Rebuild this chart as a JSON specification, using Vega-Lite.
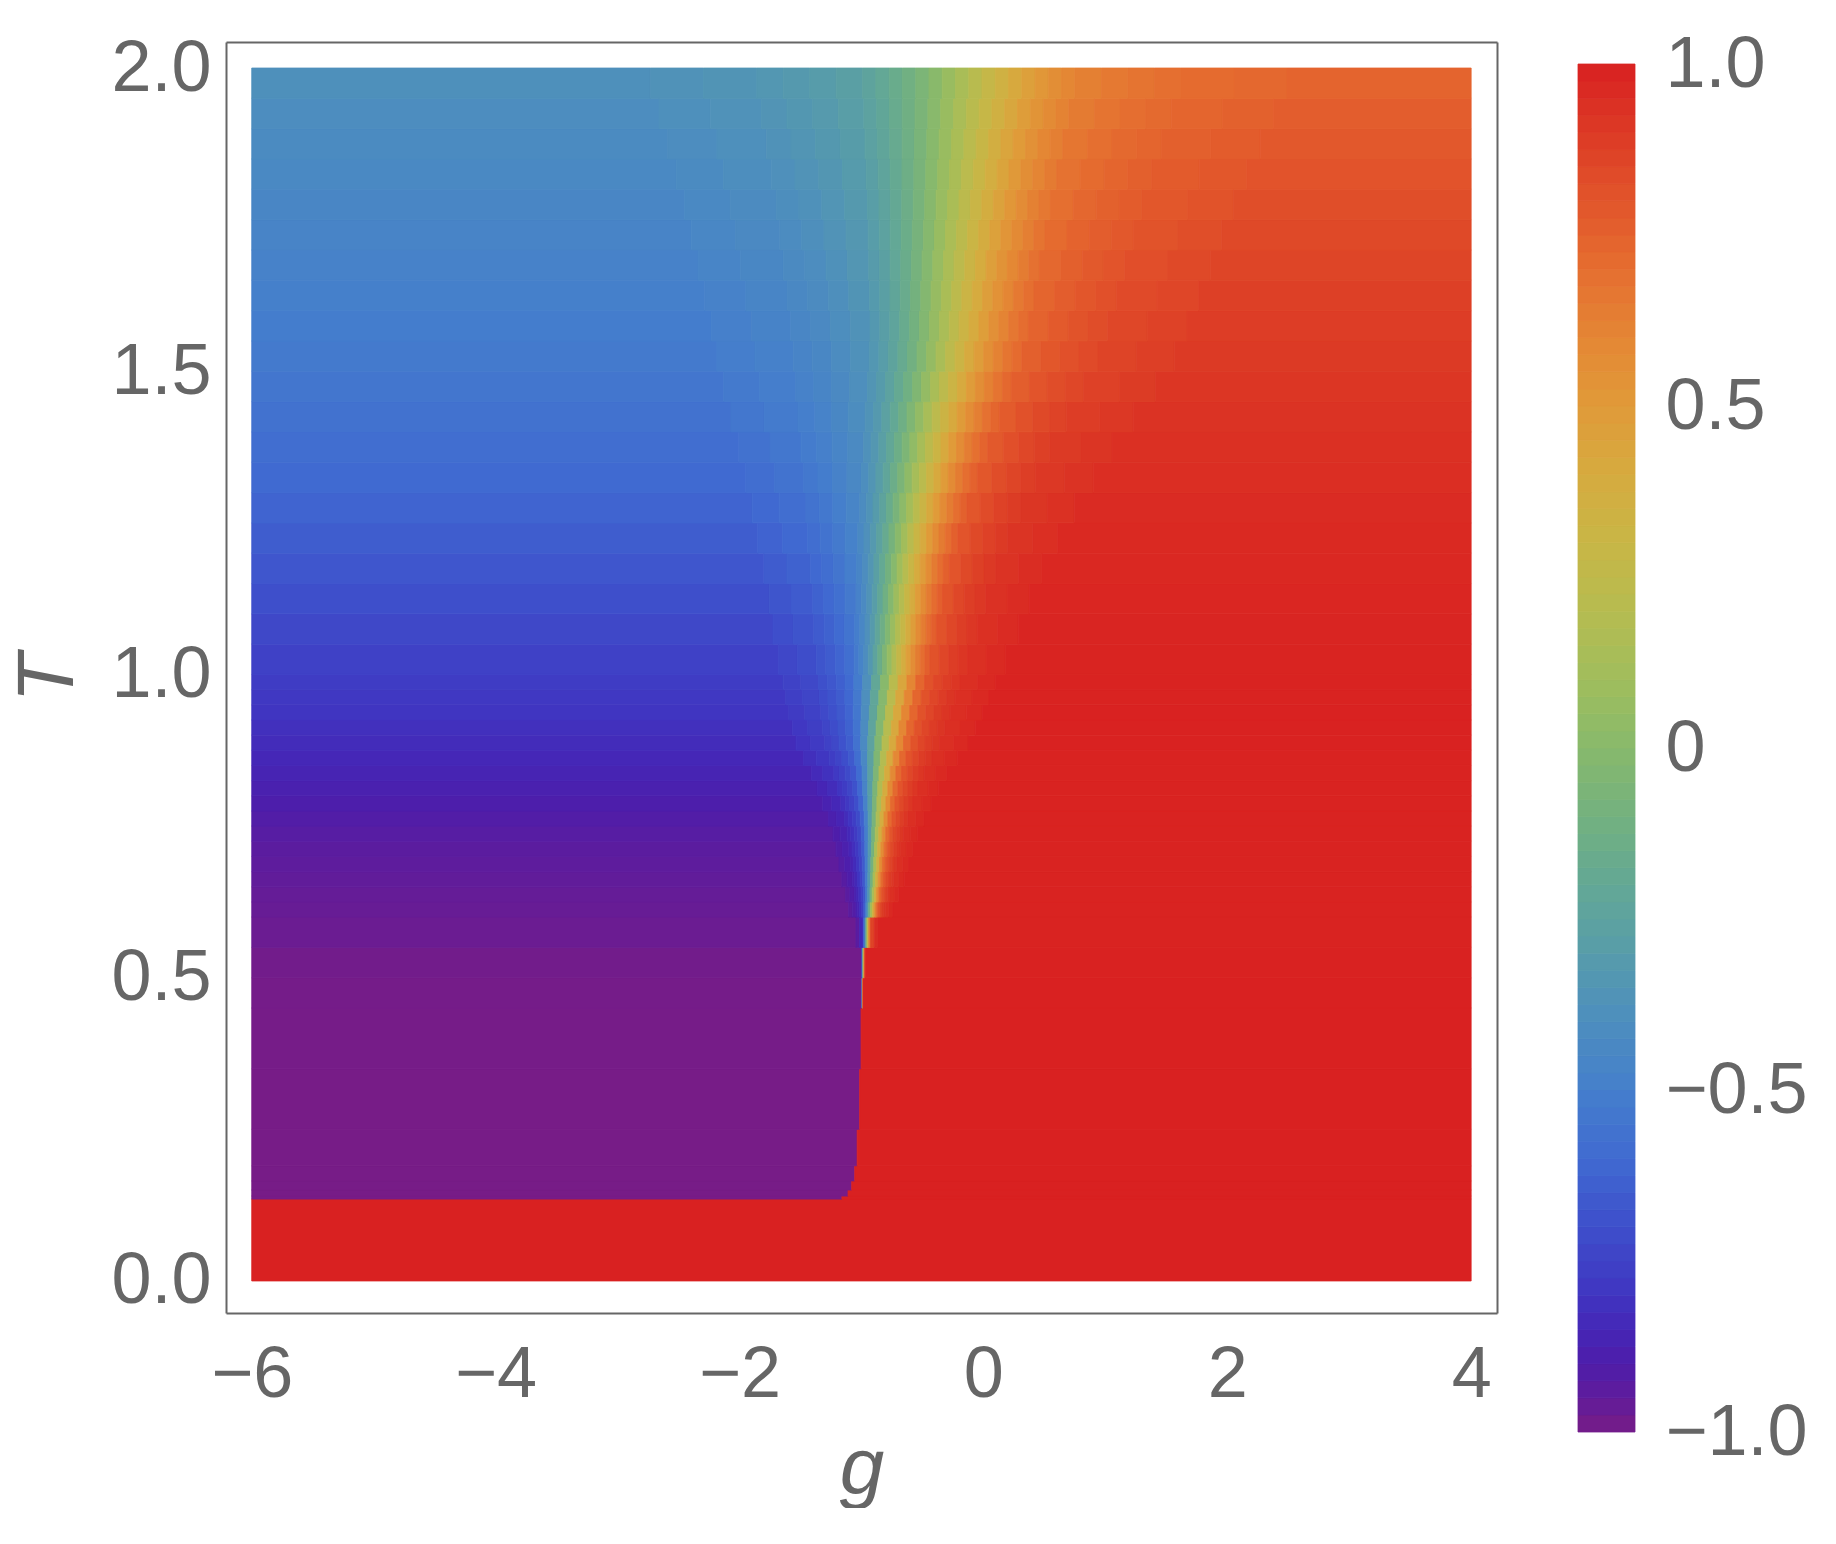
{
"$schema":"https://vega.github.io/schema/vega-lite/v6.json",
"padding":{"left":8,"top":28,"right":0,"bottom":0},
"background":"white",
"spacing":81,
"bounds":"flush",
"config":{"view":{"stroke":null},"axis":{"labelFont":"Liberation Sans","labelFontSize":72,"labelColor":"#666666","titleFont":"Liberation Sans","titleFontSize":80,"titleFontStyle":"italic","titleFontWeight":"normal","titleColor":"#666666","grid":false}},
"hconcat":[
{
"width":1271,"height":1271,
"layer":[
{
"data":{"values":[
{"a":-6,"b":4,"t":0,"u":0.135,"v":1},
{"a":-6,"b":-1.16,"t":0.135,"u":0.14,"v":-0.998},{"a":-1.16,"b":4,"t":0.135,"u":0.14,"v":1},
{"a":-6,"b":-1.11,"t":0.14,"u":0.15,"v":-0.998},{"a":-1.11,"b":4,"t":0.14,"u":0.15,"v":1},
{"a":-6,"b":-1.08,"t":0.15,"u":0.165,"v":-0.998},{"a":-1.08,"b":4,"t":0.15,"u":0.165,"v":1},
{"a":-6,"b":-1.055,"t":0.165,"u":0.19,"v":-0.998},{"a":-1.055,"b":4,"t":0.165,"u":0.19,"v":1},
{"a":-6,"b":-1.035,"t":0.19,"u":0.25,"v":-0.998},{"a":-1.035,"b":4,"t":0.19,"u":0.25,"v":1},
{"a":-6,"b":-1.015,"t":0.25,"u":0.35,"v":-0.998},{"a":-1.015,"b":4,"t":0.25,"u":0.35,"v":1},
{"a":-6,"b":-1.003,"t":0.35,"u":0.45,"v":-0.996},{"a":-1.003,"b":4,"t":0.35,"u":0.45,"v":1},
{"a":-6,"b":-0.997,"t":0.45,"u":0.5,"v":-0.993},{"a":-0.997,"b":-0.992,"t":0.45,"u":0.5,"v":-0.5},{"a":-0.992,"b":-0.987,"t":0.45,"u":0.5,"v":0.5},{"a":-0.987,"b":4,"t":0.45,"u":0.5,"v":1},
{"a":-6,"b":-1.001,"t":0.5,"u":0.55,"v":-0.988},{"a":-1.001,"b":-0.993,"t":0.5,"u":0.55,"v":-0.8},{"a":-0.993,"b":-0.985,"t":0.5,"u":0.55,"v":-0.25},{"a":-0.985,"b":-0.977,"t":0.5,"u":0.55,"v":0.3},{"a":-0.977,"b":-0.969,"t":0.5,"u":0.55,"v":0.8},{"a":-0.969,"b":4,"t":0.5,"u":0.55,"v":0.996},
{"a":-6,"b":-1.045,"t":0.55,"u":0.6,"v":-0.972},{"a":-1.045,"b":-1.015,"t":0.55,"u":0.6,"v":-0.934},{"a":-1.015,"b":-0.985,"t":0.55,"u":0.6,"v":-0.842},{"a":-0.985,"b":-0.97,"t":0.55,"u":0.6,"v":-0.618},{"a":-0.97,"b":-0.955,"t":0.55,"u":0.6,"v":-0.231},{"a":-0.955,"b":-0.94,"t":0.55,"u":0.6,"v":0.253},{"a":-0.94,"b":-0.925,"t":0.55,"u":0.6,"v":0.64},{"a":-0.925,"b":-0.895,"t":0.55,"u":0.6,"v":0.864},{"a":-0.895,"b":-0.865,"t":0.55,"u":0.6,"v":0.956},{"a":-0.865,"b":4,"t":0.55,"u":0.6,"v":0.994},
{"a":-6,"b":-1.105,"t":0.6,"u":0.625,"v":-0.965},{"a":-1.105,"b":-1.075,"t":0.6,"u":0.625,"v":-0.939},{"a":-1.075,"b":-1.045,"t":0.6,"u":0.625,"v":-0.913},{"a":-1.045,"b":-1.03,"t":0.6,"u":0.625,"v":-0.882},{"a":-1.03,"b":-1.015,"t":0.6,"u":0.625,"v":-0.853},{"a":-1.015,"b":-1.0,"t":0.6,"u":0.625,"v":-0.814},{"a":-1.0,"b":-0.985,"t":0.6,"u":0.625,"v":-0.766},{"a":-0.985,"b":-0.97,"t":0.6,"u":0.625,"v":-0.679},{"a":-0.97,"b":-0.955,"t":0.6,"u":0.625,"v":-0.532},{"a":-0.955,"b":-0.94,"t":0.6,"u":0.625,"v":-0.338},{"a":-0.94,"b":-0.925,"t":0.6,"u":0.625,"v":-0.108},{"a":-0.925,"b":-0.91,"t":0.6,"u":0.625,"v":0.137},{"a":-0.91,"b":-0.895,"t":0.6,"u":0.625,"v":0.367},{"a":-0.895,"b":-0.88,"t":0.6,"u":0.625,"v":0.561},{"a":-0.88,"b":-0.865,"t":0.6,"u":0.625,"v":0.708},{"a":-0.865,"b":-0.85,"t":0.6,"u":0.625,"v":0.795},{"a":-0.85,"b":-0.835,"t":0.6,"u":0.625,"v":0.843},{"a":-0.835,"b":-0.82,"t":0.6,"u":0.625,"v":0.882},{"a":-0.82,"b":-0.805,"t":0.6,"u":0.625,"v":0.911},{"a":-0.805,"b":-0.775,"t":0.6,"u":0.625,"v":0.942},{"a":-0.775,"b":-0.745,"t":0.6,"u":0.625,"v":0.968},{"a":-0.745,"b":4,"t":0.6,"u":0.625,"v":0.994},
{"a":-6,"b":-1.131,"t":0.625,"u":0.65,"v":-0.96},{"a":-1.131,"b":-1.0945,"t":0.625,"u":0.65,"v":-0.934},{"a":-1.0945,"b":-1.058,"t":0.625,"u":0.65,"v":-0.908},{"a":-1.058,"b":-1.04,"t":0.625,"u":0.65,"v":-0.878},{"a":-1.04,"b":-1.0215,"t":0.625,"u":0.65,"v":-0.848},{"a":-1.0215,"b":-1.003,"t":0.625,"u":0.65,"v":-0.81},{"a":-1.003,"b":-0.985,"t":0.625,"u":0.65,"v":-0.761},{"a":-0.985,"b":-0.967,"t":0.625,"u":0.65,"v":-0.675},{"a":-0.967,"b":-0.9485,"t":0.625,"u":0.65,"v":-0.529},{"a":-0.9485,"b":-0.93,"t":0.625,"u":0.65,"v":-0.335},{"a":-0.93,"b":-0.912,"t":0.625,"u":0.65,"v":-0.105},{"a":-0.912,"b":-0.894,"t":0.625,"u":0.65,"v":0.139},{"a":-0.894,"b":-0.8755,"t":0.625,"u":0.65,"v":0.369},{"a":-0.8755,"b":-0.857,"t":0.625,"u":0.65,"v":0.563},{"a":-0.857,"b":-0.839,"t":0.625,"u":0.65,"v":0.709},{"a":-0.839,"b":-0.821,"t":0.625,"u":0.65,"v":0.795},{"a":-0.821,"b":-0.8025,"t":0.625,"u":0.65,"v":0.844},{"a":-0.8025,"b":-0.784,"t":0.625,"u":0.65,"v":0.882},{"a":-0.784,"b":-0.766,"t":0.625,"u":0.65,"v":0.912},{"a":-0.766,"b":-0.7295,"t":0.625,"u":0.65,"v":0.942},{"a":-0.7295,"b":-0.693,"t":0.625,"u":0.65,"v":0.968},{"a":-0.693,"b":4,"t":0.625,"u":0.65,"v":0.994},
{"a":-6,"b":-1.16,"t":0.65,"u":0.675,"v":-0.952},{"a":-1.16,"b":-1.1175,"t":0.65,"u":0.675,"v":-0.926},{"a":-1.1175,"b":-1.075,"t":0.65,"u":0.675,"v":-0.9},{"a":-1.075,"b":-1.054,"t":0.65,"u":0.675,"v":-0.87},{"a":-1.054,"b":-1.0325,"t":0.65,"u":0.675,"v":-0.841},{"a":-1.0325,"b":-1.011,"t":0.65,"u":0.675,"v":-0.802},{"a":-1.011,"b":-0.99,"t":0.65,"u":0.675,"v":-0.754},{"a":-0.99,"b":-0.969,"t":0.65,"u":0.675,"v":-0.668},{"a":-0.969,"b":-0.9475,"t":0.65,"u":0.675,"v":-0.522},{"a":-0.9475,"b":-0.926,"t":0.65,"u":0.675,"v":-0.33},{"a":-0.926,"b":-0.905,"t":0.65,"u":0.675,"v":-0.1},{"a":-0.905,"b":-0.884,"t":0.65,"u":0.675,"v":0.142},{"a":-0.884,"b":-0.8625,"t":0.65,"u":0.675,"v":0.372},{"a":-0.8625,"b":-0.841,"t":0.65,"u":0.675,"v":0.564},{"a":-0.841,"b":-0.82,"t":0.65,"u":0.675,"v":0.71},{"a":-0.82,"b":-0.799,"t":0.65,"u":0.675,"v":0.796},{"a":-0.799,"b":-0.7775,"t":0.65,"u":0.675,"v":0.844},{"a":-0.7775,"b":-0.756,"t":0.65,"u":0.675,"v":0.883},{"a":-0.756,"b":-0.735,"t":0.65,"u":0.675,"v":0.912},{"a":-0.735,"b":-0.6925,"t":0.65,"u":0.675,"v":0.942},{"a":-0.6925,"b":-0.65,"t":0.65,"u":0.675,"v":0.968},{"a":-0.65,"b":4,"t":0.65,"u":0.675,"v":0.994},
{"a":-6,"b":-1.184,"t":0.675,"u":0.7,"v":-0.944},{"a":-1.184,"b":-1.1365,"t":0.675,"u":0.7,"v":-0.918},{"a":-1.1365,"b":-1.089,"t":0.675,"u":0.7,"v":-0.893},{"a":-1.089,"b":-1.065,"t":0.675,"u":0.7,"v":-0.862},{"a":-1.065,"b":-1.0415,"t":0.675,"u":0.7,"v":-0.833},{"a":-1.0415,"b":-1.018,"t":0.675,"u":0.7,"v":-0.795},{"a":-1.018,"b":-0.994,"t":0.675,"u":0.7,"v":-0.747},{"a":-0.994,"b":-0.97,"t":0.675,"u":0.7,"v":-0.661},{"a":-0.97,"b":-0.9465,"t":0.675,"u":0.7,"v":-0.516},{"a":-0.9465,"b":-0.923,"t":0.675,"u":0.7,"v":-0.324},{"a":-0.923,"b":-0.899,"t":0.675,"u":0.7,"v":-0.096},{"a":-0.899,"b":-0.875,"t":0.675,"u":0.7,"v":0.146},{"a":-0.875,"b":-0.8515,"t":0.675,"u":0.7,"v":0.374},{"a":-0.8515,"b":-0.828,"t":0.675,"u":0.7,"v":0.566},{"a":-0.828,"b":-0.804,"t":0.675,"u":0.7,"v":0.711},{"a":-0.804,"b":-0.78,"t":0.675,"u":0.7,"v":0.797},{"a":-0.78,"b":-0.7565,"t":0.675,"u":0.7,"v":0.845},{"a":-0.7565,"b":-0.733,"t":0.675,"u":0.7,"v":0.883},{"a":-0.733,"b":-0.709,"t":0.675,"u":0.7,"v":0.912},{"a":-0.709,"b":-0.6615,"t":0.675,"u":0.7,"v":0.943},{"a":-0.6615,"b":-0.614,"t":0.675,"u":0.7,"v":0.968},{"a":-0.614,"b":4,"t":0.675,"u":0.7,"v":0.994},
{"a":-6,"b":-1.208,"t":0.7,"u":0.725,"v":-0.935},{"a":-1.208,"b":-1.1555,"t":0.7,"u":0.725,"v":-0.909},{"a":-1.1555,"b":-1.103,"t":0.7,"u":0.725,"v":-0.884},{"a":-1.103,"b":-1.077,"t":0.7,"u":0.725,"v":-0.854},{"a":-1.077,"b":-1.0505,"t":0.7,"u":0.725,"v":-0.825},{"a":-1.0505,"b":-1.024,"t":0.7,"u":0.725,"v":-0.787},{"a":-1.024,"b":-0.998,"t":0.7,"u":0.725,"v":-0.739},{"a":-0.998,"b":-0.972,"t":0.7,"u":0.725,"v":-0.654},{"a":-0.972,"b":-0.9455,"t":0.7,"u":0.725,"v":-0.509},{"a":-0.9455,"b":-0.919,"t":0.7,"u":0.725,"v":-0.318},{"a":-0.919,"b":-0.893,"t":0.7,"u":0.725,"v":-0.091},{"a":-0.893,"b":-0.867,"t":0.7,"u":0.725,"v":0.15},{"a":-0.867,"b":-0.8405,"t":0.7,"u":0.725,"v":0.377},{"a":-0.8405,"b":-0.814,"t":0.7,"u":0.725,"v":0.568},{"a":-0.814,"b":-0.788,"t":0.7,"u":0.725,"v":0.713},{"a":-0.788,"b":-0.762,"t":0.7,"u":0.725,"v":0.798},{"a":-0.762,"b":-0.7355,"t":0.7,"u":0.725,"v":0.846},{"a":-0.7355,"b":-0.709,"t":0.7,"u":0.725,"v":0.884},{"a":-0.709,"b":-0.683,"t":0.7,"u":0.725,"v":0.913},{"a":-0.683,"b":-0.6305,"t":0.7,"u":0.725,"v":0.943},{"a":-0.6305,"b":-0.578,"t":0.7,"u":0.725,"v":0.968},{"a":-0.578,"b":4,"t":0.7,"u":0.725,"v":0.994},
{"a":-6,"b":-1.232,"t":0.725,"u":0.75,"v":-0.924},{"a":-1.232,"b":-1.1745,"t":0.725,"u":0.75,"v":-0.898},{"a":-1.1745,"b":-1.117,"t":0.725,"u":0.75,"v":-0.873},{"a":-1.117,"b":-1.088,"t":0.725,"u":0.75,"v":-0.843},{"a":-1.088,"b":-1.0595,"t":0.725,"u":0.75,"v":-0.814},{"a":-1.0595,"b":-1.031,"t":0.725,"u":0.75,"v":-0.777},{"a":-1.031,"b":-1.002,"t":0.725,"u":0.75,"v":-0.729},{"a":-1.002,"b":-0.973,"t":0.725,"u":0.75,"v":-0.644},{"a":-0.973,"b":-0.9445,"t":0.725,"u":0.75,"v":-0.501},{"a":-0.9445,"b":-0.916,"t":0.725,"u":0.75,"v":-0.311},{"a":-0.916,"b":-0.887,"t":0.725,"u":0.75,"v":-0.085},{"a":-0.887,"b":-0.858,"t":0.725,"u":0.75,"v":0.155},{"a":-0.858,"b":-0.8295,"t":0.725,"u":0.75,"v":0.381},{"a":-0.8295,"b":-0.801,"t":0.725,"u":0.75,"v":0.571},{"a":-0.801,"b":-0.772,"t":0.725,"u":0.75,"v":0.714},{"a":-0.772,"b":-0.743,"t":0.725,"u":0.75,"v":0.799},{"a":-0.743,"b":-0.7145,"t":0.725,"u":0.75,"v":0.847},{"a":-0.7145,"b":-0.686,"t":0.725,"u":0.75,"v":0.884},{"a":-0.686,"b":-0.657,"t":0.725,"u":0.75,"v":0.913},{"a":-0.657,"b":-0.5995,"t":0.725,"u":0.75,"v":0.943},{"a":-0.5995,"b":-0.542,"t":0.725,"u":0.75,"v":0.968},{"a":-0.542,"b":4,"t":0.725,"u":0.75,"v":0.994},
{"a":-6,"b":-1.27,"t":0.75,"u":0.775,"v":-0.911},{"a":-1.27,"b":-1.205,"t":0.75,"u":0.775,"v":-0.885},{"a":-1.205,"b":-1.14,"t":0.75,"u":0.775,"v":-0.86},{"a":-1.14,"b":-1.1075,"t":0.75,"u":0.775,"v":-0.831},{"a":-1.1075,"b":-1.075,"t":0.75,"u":0.775,"v":-0.802},{"a":-1.075,"b":-1.0425,"t":0.75,"u":0.775,"v":-0.765},{"a":-1.0425,"b":-1.01,"t":0.75,"u":0.775,"v":-0.717},{"a":-1.01,"b":-0.9775,"t":0.75,"u":0.775,"v":-0.633},{"a":-0.9775,"b":-0.945,"t":0.75,"u":0.775,"v":-0.491},{"a":-0.945,"b":-0.9125,"t":0.75,"u":0.775,"v":-0.302},{"a":-0.9125,"b":-0.88,"t":0.75,"u":0.775,"v":-0.077},{"a":-0.88,"b":-0.8475,"t":0.75,"u":0.775,"v":0.16},{"a":-0.8475,"b":-0.815,"t":0.75,"u":0.775,"v":0.385},{"a":-0.815,"b":-0.7825,"t":0.75,"u":0.775,"v":0.574},{"a":-0.7825,"b":-0.75,"t":0.75,"u":0.775,"v":0.716},{"a":-0.75,"b":-0.7175,"t":0.75,"u":0.775,"v":0.8},{"a":-0.7175,"b":-0.685,"t":0.75,"u":0.775,"v":0.848},{"a":-0.685,"b":-0.6525,"t":0.75,"u":0.775,"v":0.885},{"a":-0.6525,"b":-0.62,"t":0.75,"u":0.775,"v":0.914},{"a":-0.62,"b":-0.555,"t":0.75,"u":0.775,"v":0.943},{"a":-0.555,"b":-0.49,"t":0.75,"u":0.775,"v":0.968},{"a":-0.49,"b":4,"t":0.75,"u":0.775,"v":0.994},
{"a":-6,"b":-1.317,"t":0.775,"u":0.8,"v":-0.896},{"a":-1.317,"b":-1.243,"t":0.775,"u":0.8,"v":-0.871},{"a":-1.243,"b":-1.169,"t":0.775,"u":0.8,"v":-0.846},{"a":-1.169,"b":-1.132,"t":0.775,"u":0.8,"v":-0.816},{"a":-1.132,"b":-1.095,"t":0.775,"u":0.8,"v":-0.788},{"a":-1.095,"b":-1.058,"t":0.775,"u":0.8,"v":-0.751},{"a":-1.058,"b":-1.021,"t":0.775,"u":0.8,"v":-0.704},{"a":-1.021,"b":-0.984,"t":0.775,"u":0.8,"v":-0.621},{"a":-0.984,"b":-0.947,"t":0.775,"u":0.8,"v":-0.479},{"a":-0.947,"b":-0.91,"t":0.775,"u":0.8,"v":-0.292},{"a":-0.91,"b":-0.873,"t":0.775,"u":0.8,"v":-0.069},{"a":-0.873,"b":-0.836,"t":0.775,"u":0.8,"v":0.167},{"a":-0.836,"b":-0.799,"t":0.775,"u":0.8,"v":0.39},{"a":-0.799,"b":-0.762,"t":0.775,"u":0.8,"v":0.577},{"a":-0.762,"b":-0.725,"t":0.775,"u":0.8,"v":0.719},{"a":-0.725,"b":-0.688,"t":0.775,"u":0.8,"v":0.802},{"a":-0.688,"b":-0.651,"t":0.775,"u":0.8,"v":0.849},{"a":-0.651,"b":-0.614,"t":0.775,"u":0.8,"v":0.886},{"a":-0.614,"b":-0.577,"t":0.775,"u":0.8,"v":0.914},{"a":-0.577,"b":-0.503,"t":0.775,"u":0.8,"v":0.944},{"a":-0.503,"b":-0.429,"t":0.775,"u":0.8,"v":0.969},{"a":-0.429,"b":4,"t":0.775,"u":0.8,"v":0.994},
{"a":-6,"b":-1.361,"t":0.8,"u":0.825,"v":-0.88},{"a":-1.361,"b":-1.2785,"t":0.8,"u":0.825,"v":-0.855},{"a":-1.2785,"b":-1.196,"t":0.8,"u":0.825,"v":-0.83},{"a":-1.196,"b":-1.155,"t":0.8,"u":0.825,"v":-0.801},{"a":-1.155,"b":-1.1135,"t":0.8,"u":0.825,"v":-0.773},{"a":-1.1135,"b":-1.072,"t":0.8,"u":0.825,"v":-0.736},{"a":-1.072,"b":-1.031,"t":0.8,"u":0.825,"v":-0.69},{"a":-1.031,"b":-0.99,"t":0.8,"u":0.825,"v":-0.607},{"a":-0.99,"b":-0.9485,"t":0.8,"u":0.825,"v":-0.466},{"a":-0.9485,"b":-0.907,"t":0.8,"u":0.825,"v":-0.281},{"a":-0.907,"b":-0.866,"t":0.8,"u":0.825,"v":-0.06},{"a":-0.866,"b":-0.825,"t":0.8,"u":0.825,"v":0.174},{"a":-0.825,"b":-0.7835,"t":0.8,"u":0.825,"v":0.395},{"a":-0.7835,"b":-0.742,"t":0.8,"u":0.825,"v":0.58},{"a":-0.742,"b":-0.701,"t":0.8,"u":0.825,"v":0.721},{"a":-0.701,"b":-0.66,"t":0.8,"u":0.825,"v":0.804},{"a":-0.66,"b":-0.6185,"t":0.8,"u":0.825,"v":0.85},{"a":-0.6185,"b":-0.577,"t":0.8,"u":0.825,"v":0.887},{"a":-0.577,"b":-0.536,"t":0.8,"u":0.825,"v":0.915},{"a":-0.536,"b":-0.4535,"t":0.8,"u":0.825,"v":0.944},{"a":-0.4535,"b":-0.371,"t":0.8,"u":0.825,"v":0.969},{"a":-0.371,"b":4,"t":0.8,"u":0.825,"v":0.994},
{"a":-6,"b":-1.411,"t":0.825,"u":0.85,"v":-0.863},{"a":-1.411,"b":-1.3185,"t":0.825,"u":0.85,"v":-0.838},{"a":-1.3185,"b":-1.226,"t":0.825,"u":0.85,"v":-0.814},{"a":-1.226,"b":-1.18,"t":0.825,"u":0.85,"v":-0.785},{"a":-1.18,"b":-1.1335,"t":0.825,"u":0.85,"v":-0.757},{"a":-1.1335,"b":-1.087,"t":0.825,"u":0.85,"v":-0.72},{"a":-1.087,"b":-1.041,"t":0.825,"u":0.85,"v":-0.674},{"a":-1.041,"b":-0.995,"t":0.825,"u":0.85,"v":-0.592},{"a":-0.995,"b":-0.9485,"t":0.825,"u":0.85,"v":-0.453},{"a":-0.9485,"b":-0.902,"t":0.825,"u":0.85,"v":-0.269},{"a":-0.902,"b":-0.856,"t":0.825,"u":0.85,"v":-0.05},{"a":-0.856,"b":-0.81,"t":0.825,"u":0.85,"v":0.181},{"a":-0.81,"b":-0.7635,"t":0.825,"u":0.85,"v":0.4},{"a":-0.7635,"b":-0.717,"t":0.825,"u":0.85,"v":0.584},{"a":-0.717,"b":-0.671,"t":0.825,"u":0.85,"v":0.723},{"a":-0.671,"b":-0.625,"t":0.825,"u":0.85,"v":0.805},{"a":-0.625,"b":-0.5785,"t":0.825,"u":0.85,"v":0.851},{"a":-0.5785,"b":-0.532,"t":0.825,"u":0.85,"v":0.888},{"a":-0.532,"b":-0.486,"t":0.825,"u":0.85,"v":0.916},{"a":-0.486,"b":-0.3935,"t":0.825,"u":0.85,"v":0.945},{"a":-0.3935,"b":-0.301,"t":0.825,"u":0.85,"v":0.969},{"a":-0.301,"b":4,"t":0.825,"u":0.85,"v":0.994},
{"a":-6,"b":-1.475,"t":0.85,"u":0.875,"v":-0.846},{"a":-1.475,"b":-1.37,"t":0.85,"u":0.875,"v":-0.821},{"a":-1.37,"b":-1.265,"t":0.85,"u":0.875,"v":-0.797},{"a":-1.265,"b":-1.2125,"t":0.85,"u":0.875,"v":-0.769},{"a":-1.2125,"b":-1.16,"t":0.85,"u":0.875,"v":-0.741},{"a":-1.16,"b":-1.1075,"t":0.85,"u":0.875,"v":-0.705},{"a":-1.1075,"b":-1.055,"t":0.85,"u":0.875,"v":-0.659},{"a":-1.055,"b":-1.0025,"t":0.85,"u":0.875,"v":-0.578},{"a":-1.0025,"b":-0.95,"t":0.85,"u":0.875,"v":-0.44},{"a":-0.95,"b":-0.8975,"t":0.85,"u":0.875,"v":-0.258},{"a":-0.8975,"b":-0.845,"t":0.85,"u":0.875,"v":-0.041},{"a":-0.845,"b":-0.7925,"t":0.85,"u":0.875,"v":0.189},{"a":-0.7925,"b":-0.74,"t":0.85,"u":0.875,"v":0.406},{"a":-0.74,"b":-0.6875,"t":0.85,"u":0.875,"v":0.588},{"a":-0.6875,"b":-0.635,"t":0.85,"u":0.875,"v":0.726},{"a":-0.635,"b":-0.5825,"t":0.85,"u":0.875,"v":0.807},{"a":-0.5825,"b":-0.53,"t":0.85,"u":0.875,"v":0.853},{"a":-0.53,"b":-0.4775,"t":0.85,"u":0.875,"v":0.889},{"a":-0.4775,"b":-0.425,"t":0.85,"u":0.875,"v":0.917},{"a":-0.425,"b":-0.32,"t":0.85,"u":0.875,"v":0.945},{"a":-0.32,"b":-0.215,"t":0.85,"u":0.875,"v":0.969},{"a":-0.215,"b":4,"t":0.85,"u":0.875,"v":0.994},
{"a":-6,"b":-1.536,"t":0.875,"u":0.9,"v":-0.831},{"a":-1.536,"b":-1.4185,"t":0.875,"u":0.9,"v":-0.806},{"a":-1.4185,"b":-1.301,"t":0.875,"u":0.9,"v":-0.782},{"a":-1.301,"b":-1.242,"t":0.875,"u":0.9,"v":-0.753},{"a":-1.242,"b":-1.1835,"t":0.875,"u":0.9,"v":-0.726},{"a":-1.1835,"b":-1.125,"t":0.875,"u":0.9,"v":-0.69},{"a":-1.125,"b":-1.066,"t":0.875,"u":0.9,"v":-0.645},{"a":-1.066,"b":-1.007,"t":0.875,"u":0.9,"v":-0.564},{"a":-1.007,"b":-0.9485,"t":0.875,"u":0.9,"v":-0.428},{"a":-0.9485,"b":-0.89,"t":0.875,"u":0.9,"v":-0.247},{"a":-0.89,"b":-0.831,"t":0.875,"u":0.9,"v":-0.032},{"a":-0.831,"b":-0.772,"t":0.875,"u":0.9,"v":0.196},{"a":-0.772,"b":-0.7135,"t":0.875,"u":0.9,"v":0.411},{"a":-0.7135,"b":-0.655,"t":0.875,"u":0.9,"v":0.592},{"a":-0.655,"b":-0.596,"t":0.875,"u":0.9,"v":0.728},{"a":-0.596,"b":-0.537,"t":0.875,"u":0.9,"v":0.809},{"a":-0.537,"b":-0.4785,"t":0.875,"u":0.9,"v":0.854},{"a":-0.4785,"b":-0.42,"t":0.875,"u":0.9,"v":0.89},{"a":-0.42,"b":-0.361,"t":0.875,"u":0.9,"v":0.917},{"a":-0.361,"b":-0.2435,"t":0.875,"u":0.9,"v":0.946},{"a":-0.2435,"b":-0.126,"t":0.875,"u":0.9,"v":0.97},{"a":-0.126,"b":4,"t":0.875,"u":0.9,"v":0.995},
{"a":-6,"b":-1.567,"t":0.9,"u":0.925,"v":-0.816},{"a":-1.567,"b":-1.442,"t":0.9,"u":0.925,"v":-0.791},{"a":-1.442,"b":-1.317,"t":0.9,"u":0.925,"v":-0.767},{"a":-1.317,"b":-1.2545,"t":0.9,"u":0.925,"v":-0.739},{"a":-1.2545,"b":-1.192,"t":0.9,"u":0.925,"v":-0.712},{"a":-1.192,"b":-1.1295,"t":0.9,"u":0.925,"v":-0.676},{"a":-1.1295,"b":-1.067,"t":0.9,"u":0.925,"v":-0.631},{"a":-1.067,"b":-1.0045,"t":0.9,"u":0.925,"v":-0.552},{"a":-1.0045,"b":-0.942,"t":0.9,"u":0.925,"v":-0.416},{"a":-0.942,"b":-0.8795,"t":0.9,"u":0.925,"v":-0.237},{"a":-0.8795,"b":-0.817,"t":0.9,"u":0.925,"v":-0.023},{"a":-0.817,"b":-0.7545,"t":0.9,"u":0.925,"v":0.202},{"a":-0.7545,"b":-0.692,"t":0.9,"u":0.925,"v":0.416},{"a":-0.692,"b":-0.6295,"t":0.9,"u":0.925,"v":0.595},{"a":-0.6295,"b":-0.567,"t":0.9,"u":0.925,"v":0.731},{"a":-0.567,"b":-0.5045,"t":0.9,"u":0.925,"v":0.81},{"a":-0.5045,"b":-0.442,"t":0.9,"u":0.925,"v":0.855},{"a":-0.442,"b":-0.3795,"t":0.9,"u":0.925,"v":0.891},{"a":-0.3795,"b":-0.317,"t":0.9,"u":0.925,"v":0.918},{"a":-0.317,"b":-0.192,"t":0.9,"u":0.925,"v":0.946},{"a":-0.192,"b":-0.067,"t":0.9,"u":0.925,"v":0.97},{"a":-0.067,"b":4,"t":0.9,"u":0.925,"v":0.995},
{"a":-6,"b":-1.598,"t":0.925,"u":0.95,"v":-0.801},{"a":-1.598,"b":-1.4655,"t":0.925,"u":0.95,"v":-0.776},{"a":-1.4655,"b":-1.333,"t":0.925,"u":0.95,"v":-0.753},{"a":-1.333,"b":-1.267,"t":0.925,"u":0.95,"v":-0.725},{"a":-1.267,"b":-1.2005,"t":0.925,"u":0.95,"v":-0.698},{"a":-1.2005,"b":-1.134,"t":0.925,"u":0.95,"v":-0.662},{"a":-1.134,"b":-1.068,"t":0.925,"u":0.95,"v":-0.618},{"a":-1.068,"b":-1.002,"t":0.925,"u":0.95,"v":-0.539},{"a":-1.002,"b":-0.9355,"t":0.925,"u":0.95,"v":-0.404},{"a":-0.9355,"b":-0.869,"t":0.925,"u":0.95,"v":-0.226},{"a":-0.869,"b":-0.803,"t":0.925,"u":0.95,"v":-0.015},{"a":-0.803,"b":-0.737,"t":0.925,"u":0.95,"v":0.209},{"a":-0.737,"b":-0.6705,"t":0.925,"u":0.95,"v":0.42},{"a":-0.6705,"b":-0.604,"t":0.925,"u":0.95,"v":0.598},{"a":-0.604,"b":-0.538,"t":0.925,"u":0.95,"v":0.733},{"a":-0.538,"b":-0.472,"t":0.925,"u":0.95,"v":0.812},{"a":-0.472,"b":-0.4055,"t":0.925,"u":0.95,"v":0.856},{"a":-0.4055,"b":-0.339,"t":0.925,"u":0.95,"v":0.892},{"a":-0.339,"b":-0.273,"t":0.925,"u":0.95,"v":0.919},{"a":-0.273,"b":-0.1405,"t":0.925,"u":0.95,"v":0.947},{"a":-0.1405,"b":-0.008,"t":0.925,"u":0.95,"v":0.97},{"a":-0.008,"b":4,"t":0.925,"u":0.95,"v":0.995},
{"a":-6,"b":-1.622,"t":0.95,"u":0.975,"v":-0.787},{"a":-1.622,"b":-1.483,"t":0.95,"u":0.975,"v":-0.762},{"a":-1.483,"b":-1.344,"t":0.95,"u":0.975,"v":-0.739},{"a":-1.344,"b":-1.2745,"t":0.95,"u":0.975,"v":-0.712},{"a":-1.2745,"b":-1.205,"t":0.95,"u":0.975,"v":-0.685},{"a":-1.205,"b":-1.1355,"t":0.95,"u":0.975,"v":-0.65},{"a":-1.1355,"b":-1.066,"t":0.95,"u":0.975,"v":-0.606},{"a":-1.066,"b":-0.9965,"t":0.95,"u":0.975,"v":-0.527},{"a":-0.9965,"b":-0.927,"t":0.95,"u":0.975,"v":-0.394},{"a":-0.927,"b":-0.8575,"t":0.95,"u":0.975,"v":-0.217},{"a":-0.8575,"b":-0.788,"t":0.95,"u":0.975,"v":-0.008},{"a":-0.788,"b":-0.7185,"t":0.95,"u":0.975,"v":0.214},{"a":-0.7185,"b":-0.649,"t":0.95,"u":0.975,"v":0.423},{"a":-0.649,"b":-0.5795,"t":0.95,"u":0.975,"v":0.6},{"a":-0.5795,"b":-0.51,"t":0.95,"u":0.975,"v":0.733},{"a":-0.51,"b":-0.4405,"t":0.95,"u":0.975,"v":0.812},{"a":-0.4405,"b":-0.371,"t":0.95,"u":0.975,"v":0.856},{"a":-0.371,"b":-0.3015,"t":0.95,"u":0.975,"v":0.891},{"a":-0.3015,"b":-0.232,"t":0.95,"u":0.975,"v":0.918},{"a":-0.232,"b":-0.093,"t":0.95,"u":0.975,"v":0.945},{"a":-0.093,"b":0.046,"t":0.95,"u":0.975,"v":0.968},{"a":0.046,"b":4,"t":0.95,"u":0.975,"v":0.993},
{"a":-6,"b":-1.642,"t":0.975,"u":1.0,"v":-0.773},{"a":-1.642,"b":-1.497,"t":0.975,"u":1.0,"v":-0.749},{"a":-1.497,"b":-1.352,"t":0.975,"u":1.0,"v":-0.726},{"a":-1.352,"b":-1.2795,"t":0.975,"u":1.0,"v":-0.698},{"a":-1.2795,"b":-1.207,"t":0.975,"u":1.0,"v":-0.672},{"a":-1.207,"b":-1.1345,"t":0.975,"u":1.0,"v":-0.637},{"a":-1.1345,"b":-1.062,"t":0.975,"u":1.0,"v":-0.593},{"a":-1.062,"b":-0.9895,"t":0.975,"u":1.0,"v":-0.516},{"a":-0.9895,"b":-0.917,"t":0.975,"u":1.0,"v":-0.383},{"a":-0.917,"b":-0.8445,"t":0.975,"u":1.0,"v":-0.209},{"a":-0.8445,"b":-0.772,"t":0.975,"u":1.0,"v":-0.001},{"a":-0.772,"b":-0.6995,"t":0.975,"u":1.0,"v":0.219},{"a":-0.6995,"b":-0.627,"t":0.975,"u":1.0,"v":0.427},{"a":-0.627,"b":-0.5545,"t":0.975,"u":1.0,"v":0.601},{"a":-0.5545,"b":-0.482,"t":0.975,"u":1.0,"v":0.733},{"a":-0.482,"b":-0.4095,"t":0.975,"u":1.0,"v":0.811},{"a":-0.4095,"b":-0.337,"t":0.975,"u":1.0,"v":0.855},{"a":-0.337,"b":-0.2645,"t":0.975,"u":1.0,"v":0.89},{"a":-0.2645,"b":-0.192,"t":0.975,"u":1.0,"v":0.916},{"a":-0.192,"b":-0.047,"t":0.975,"u":1.0,"v":0.944},{"a":-0.047,"b":0.098,"t":0.975,"u":1.0,"v":0.967},{"a":0.098,"b":4,"t":0.975,"u":1.0,"v":0.991},
{"a":-6,"b":-1.68,"t":1.0,"u":1.05,"v":-0.753},{"a":-1.68,"b":-1.525,"t":1.0,"u":1.05,"v":-0.729},{"a":-1.525,"b":-1.37,"t":1.0,"u":1.05,"v":-0.706},{"a":-1.37,"b":-1.2925,"t":1.0,"u":1.05,"v":-0.679},{"a":-1.2925,"b":-1.215,"t":1.0,"u":1.05,"v":-0.653},{"a":-1.215,"b":-1.1375,"t":1.0,"u":1.05,"v":-0.619},{"a":-1.1375,"b":-1.06,"t":1.0,"u":1.05,"v":-0.575},{"a":-1.06,"b":-1.021,"t":1.0,"u":1.05,"v":-0.525},{"a":-1.021,"b":-0.9825,"t":1.0,"u":1.05,"v":-0.47},{"a":-0.9825,"b":-0.944,"t":1.0,"u":1.05,"v":-0.404},{"a":-0.944,"b":-0.905,"t":1.0,"u":1.05,"v":-0.329},{"a":-0.905,"b":-0.866,"t":1.0,"u":1.05,"v":-0.243},{"a":-0.866,"b":-0.8275,"t":1.0,"u":1.05,"v":-0.147},{"a":-0.8275,"b":-0.789,"t":1.0,"u":1.05,"v":-0.044},{"a":-0.789,"b":-0.75,"t":1.0,"u":1.05,"v":0.063},{"a":-0.75,"b":-0.711,"t":1.0,"u":1.05,"v":0.173},{"a":-0.711,"b":-0.6725,"t":1.0,"u":1.05,"v":0.28},{"a":-0.6725,"b":-0.634,"t":1.0,"u":1.05,"v":0.383},{"a":-0.634,"b":-0.595,"t":1.0,"u":1.05,"v":0.479},{"a":-0.595,"b":-0.556,"t":1.0,"u":1.05,"v":0.565},{"a":-0.556,"b":-0.5175,"t":1.0,"u":1.05,"v":0.64},{"a":-0.5175,"b":-0.479,"t":1.0,"u":1.05,"v":0.706},{"a":-0.479,"b":-0.44,"t":1.0,"u":1.05,"v":0.761},{"a":-0.44,"b":-0.3625,"t":1.0,"u":1.05,"v":0.811},{"a":-0.3625,"b":-0.285,"t":1.0,"u":1.05,"v":0.855},{"a":-0.285,"b":-0.2075,"t":1.0,"u":1.05,"v":0.889},{"a":-0.2075,"b":-0.13,"t":1.0,"u":1.05,"v":0.915},{"a":-0.13,"b":0.025,"t":1.0,"u":1.05,"v":0.942},{"a":0.025,"b":0.18,"t":1.0,"u":1.05,"v":0.965},{"a":0.18,"b":4,"t":1.0,"u":1.05,"v":0.989},
{"a":-6,"b":-1.725,"t":1.05,"u":1.1,"v":-0.728},{"a":-1.725,"b":-1.5575,"t":1.05,"u":1.1,"v":-0.705},{"a":-1.5575,"b":-1.39,"t":1.05,"u":1.1,"v":-0.682},{"a":-1.39,"b":-1.306,"t":1.05,"u":1.1,"v":-0.656},{"a":-1.306,"b":-1.2225,"t":1.05,"u":1.1,"v":-0.63},{"a":-1.2225,"b":-1.139,"t":1.05,"u":1.1,"v":-0.596},{"a":-1.139,"b":-1.055,"t":1.05,"u":1.1,"v":-0.553},{"a":-1.055,"b":-1.013,"t":1.05,"u":1.1,"v":-0.504},{"a":-1.013,"b":-0.971,"t":1.05,"u":1.1,"v":-0.45},{"a":-0.971,"b":-0.929,"t":1.05,"u":1.1,"v":-0.385},{"a":-0.929,"b":-0.8875,"t":1.05,"u":1.1,"v":-0.311},{"a":-0.8875,"b":-0.846,"t":1.05,"u":1.1,"v":-0.226},{"a":-0.846,"b":-0.804,"t":1.05,"u":1.1,"v":-0.132},{"a":-0.804,"b":-0.762,"t":1.05,"u":1.1,"v":-0.031},{"a":-0.762,"b":-0.72,"t":1.05,"u":1.1,"v":0.075},{"a":-0.72,"b":-0.678,"t":1.05,"u":1.1,"v":0.182},{"a":-0.678,"b":-0.636,"t":1.05,"u":1.1,"v":0.288},{"a":-0.636,"b":-0.594,"t":1.05,"u":1.1,"v":0.389},{"a":-0.594,"b":-0.5525,"t":1.05,"u":1.1,"v":0.483},{"a":-0.5525,"b":-0.511,"t":1.05,"u":1.1,"v":0.568},{"a":-0.511,"b":-0.469,"t":1.05,"u":1.1,"v":0.642},{"a":-0.469,"b":-0.427,"t":1.05,"u":1.1,"v":0.707},{"a":-0.427,"b":-0.385,"t":1.05,"u":1.1,"v":0.761},{"a":-0.385,"b":-0.301,"t":1.05,"u":1.1,"v":0.811},{"a":-0.301,"b":-0.2175,"t":1.05,"u":1.1,"v":0.853},{"a":-0.2175,"b":-0.134,"t":1.05,"u":1.1,"v":0.887},{"a":-0.134,"b":-0.05,"t":1.05,"u":1.1,"v":0.912},{"a":-0.05,"b":0.1175,"t":1.05,"u":1.1,"v":0.939},{"a":0.1175,"b":0.285,"t":1.05,"u":1.1,"v":0.962},{"a":0.285,"b":4,"t":1.05,"u":1.1,"v":0.985},
{"a":-6,"b":-1.755,"t":1.1,"u":1.15,"v":-0.7},{"a":-1.755,"b":-1.5775,"t":1.1,"u":1.15,"v":-0.677},{"a":-1.5775,"b":-1.4,"t":1.1,"u":1.15,"v":-0.655},{"a":-1.4,"b":-1.311,"t":1.1,"u":1.15,"v":-0.629},{"a":-1.311,"b":-1.2225,"t":1.1,"u":1.15,"v":-0.604},{"a":-1.2225,"b":-1.134,"t":1.1,"u":1.15,"v":-0.571},{"a":-1.134,"b":-1.045,"t":1.1,"u":1.15,"v":-0.529},{"a":-1.045,"b":-1.001,"t":1.1,"u":1.15,"v":-0.48},{"a":-1.001,"b":-0.956,"t":1.1,"u":1.15,"v":-0.427},{"a":-0.956,"b":-0.912,"t":1.1,"u":1.15,"v":-0.364},{"a":-0.912,"b":-0.8675,"t":1.1,"u":1.15,"v":-0.291},{"a":-0.8675,"b":-0.823,"t":1.1,"u":1.15,"v":-0.208},{"a":-0.823,"b":-0.779,"t":1.1,"u":1.15,"v":-0.116},{"a":-0.779,"b":-0.734,"t":1.1,"u":1.15,"v":-0.016},{"a":-0.734,"b":-0.69,"t":1.1,"u":1.15,"v":0.087},{"a":-0.69,"b":-0.646,"t":1.1,"u":1.15,"v":0.193},{"a":-0.646,"b":-0.601,"t":1.1,"u":1.15,"v":0.297},{"a":-0.601,"b":-0.557,"t":1.1,"u":1.15,"v":0.396},{"a":-0.557,"b":-0.5125,"t":1.1,"u":1.15,"v":0.488},{"a":-0.5125,"b":-0.468,"t":1.1,"u":1.15,"v":0.571},{"a":-0.468,"b":-0.424,"t":1.1,"u":1.15,"v":0.644},{"a":-0.424,"b":-0.379,"t":1.1,"u":1.15,"v":0.707},{"a":-0.379,"b":-0.335,"t":1.1,"u":1.15,"v":0.76},{"a":-0.335,"b":-0.246,"t":1.1,"u":1.15,"v":0.809},{"a":-0.246,"b":-0.1575,"t":1.1,"u":1.15,"v":0.851},{"a":-0.1575,"b":-0.069,"t":1.1,"u":1.15,"v":0.884},{"a":-0.069,"b":0.02,"t":1.1,"u":1.15,"v":0.909},{"a":0.02,"b":0.1975,"t":1.1,"u":1.15,"v":0.935},{"a":0.1975,"b":0.375,"t":1.1,"u":1.15,"v":0.957},{"a":0.375,"b":4,"t":1.1,"u":1.15,"v":0.98},
{"a":-6,"b":-1.8,"t":1.15,"u":1.2,"v":-0.673},{"a":-1.8,"b":-1.61,"t":1.15,"u":1.2,"v":-0.651},{"a":-1.61,"b":-1.42,"t":1.15,"u":1.2,"v":-0.629},{"a":-1.42,"b":-1.325,"t":1.15,"u":1.2,"v":-0.604},{"a":-1.325,"b":-1.23,"t":1.15,"u":1.2,"v":-0.579},{"a":-1.23,"b":-1.135,"t":1.15,"u":1.2,"v":-0.546},{"a":-1.135,"b":-1.04,"t":1.15,"u":1.2,"v":-0.505},{"a":-1.04,"b":-0.9925,"t":1.15,"u":1.2,"v":-0.458},{"a":-0.9925,"b":-0.945,"t":1.15,"u":1.2,"v":-0.406},{"a":-0.945,"b":-0.8975,"t":1.15,"u":1.2,"v":-0.344},{"a":-0.8975,"b":-0.85,"t":1.15,"u":1.2,"v":-0.272},{"a":-0.85,"b":-0.8025,"t":1.15,"u":1.2,"v":-0.191},{"a":-0.8025,"b":-0.755,"t":1.15,"u":1.2,"v":-0.101},{"a":-0.755,"b":-0.7075,"t":1.15,"u":1.2,"v":-0.003},{"a":-0.7075,"b":-0.66,"t":1.15,"u":1.2,"v":0.098},{"a":-0.66,"b":-0.6125,"t":1.15,"u":1.2,"v":0.202},{"a":-0.6125,"b":-0.565,"t":1.15,"u":1.2,"v":0.303},{"a":-0.565,"b":-0.5175,"t":1.15,"u":1.2,"v":0.401},{"a":-0.5175,"b":-0.47,"t":1.15,"u":1.2,"v":0.491},{"a":-0.47,"b":-0.4225,"t":1.15,"u":1.2,"v":0.572},{"a":-0.4225,"b":-0.375,"t":1.15,"u":1.2,"v":0.644},{"a":-0.375,"b":-0.3275,"t":1.15,"u":1.2,"v":0.706},{"a":-0.3275,"b":-0.28,"t":1.15,"u":1.2,"v":0.758},{"a":-0.28,"b":-0.185,"t":1.15,"u":1.2,"v":0.805},{"a":-0.185,"b":-0.09,"t":1.15,"u":1.2,"v":0.846},{"a":-0.09,"b":0.005,"t":1.15,"u":1.2,"v":0.879},{"a":0.005,"b":0.1,"t":1.15,"u":1.2,"v":0.904},{"a":0.1,"b":0.29,"t":1.15,"u":1.2,"v":0.929},{"a":0.29,"b":0.48,"t":1.15,"u":1.2,"v":0.951},{"a":0.48,"b":4,"t":1.15,"u":1.2,"v":0.973},
{"a":-6,"b":-1.85,"t":1.2,"u":1.25,"v":-0.647},{"a":-1.85,"b":-1.645,"t":1.2,"u":1.25,"v":-0.625},{"a":-1.645,"b":-1.44,"t":1.2,"u":1.25,"v":-0.604},{"a":-1.44,"b":-1.3375,"t":1.2,"u":1.25,"v":-0.579},{"a":-1.3375,"b":-1.235,"t":1.2,"u":1.25,"v":-0.555},{"a":-1.235,"b":-1.1325,"t":1.2,"u":1.25,"v":-0.523},{"a":-1.1325,"b":-1.03,"t":1.2,"u":1.25,"v":-0.483},{"a":-1.03,"b":-0.979,"t":1.2,"u":1.25,"v":-0.436},{"a":-0.979,"b":-0.9275,"t":1.2,"u":1.25,"v":-0.385},{"a":-0.9275,"b":-0.876,"t":1.2,"u":1.25,"v":-0.324},{"a":-0.876,"b":-0.825,"t":1.2,"u":1.25,"v":-0.254},{"a":-0.825,"b":-0.774,"t":1.2,"u":1.25,"v":-0.175},{"a":-0.774,"b":-0.7225,"t":1.2,"u":1.25,"v":-0.086},{"a":-0.7225,"b":-0.671,"t":1.2,"u":1.25,"v":0.01},{"a":-0.671,"b":-0.62,"t":1.2,"u":1.25,"v":0.109},{"a":-0.62,"b":-0.569,"t":1.2,"u":1.25,"v":0.211},{"a":-0.569,"b":-0.5175,"t":1.2,"u":1.25,"v":0.31},{"a":-0.5175,"b":-0.466,"t":1.2,"u":1.25,"v":0.406},{"a":-0.466,"b":-0.415,"t":1.2,"u":1.25,"v":0.495},{"a":-0.415,"b":-0.364,"t":1.2,"u":1.25,"v":0.574},{"a":-0.364,"b":-0.3125,"t":1.2,"u":1.25,"v":0.644},{"a":-0.3125,"b":-0.261,"t":1.2,"u":1.25,"v":0.705},{"a":-0.261,"b":-0.21,"t":1.2,"u":1.25,"v":0.756},{"a":-0.21,"b":-0.1075,"t":1.2,"u":1.25,"v":0.803},{"a":-0.1075,"b":-0.005,"t":1.2,"u":1.25,"v":0.843},{"a":-0.005,"b":0.0975,"t":1.2,"u":1.25,"v":0.875},{"a":0.0975,"b":0.2,"t":1.2,"u":1.25,"v":0.899},{"a":0.2,"b":0.405,"t":1.2,"u":1.25,"v":0.924},{"a":0.405,"b":0.61,"t":1.2,"u":1.25,"v":0.945},{"a":0.61,"b":4,"t":1.2,"u":1.25,"v":0.967},
{"a":-6,"b":-1.895,"t":1.25,"u":1.3,"v":-0.623},{"a":-1.895,"b":-1.675,"t":1.25,"u":1.3,"v":-0.602},{"a":-1.675,"b":-1.455,"t":1.25,"u":1.3,"v":-0.581},{"a":-1.455,"b":-1.345,"t":1.25,"u":1.3,"v":-0.556},{"a":-1.345,"b":-1.235,"t":1.25,"u":1.3,"v":-0.533},{"a":-1.235,"b":-1.125,"t":1.25,"u":1.3,"v":-0.501},{"a":-1.125,"b":-1.015,"t":1.25,"u":1.3,"v":-0.462},{"a":-1.015,"b":-0.96,"t":1.25,"u":1.3,"v":-0.416},{"a":-0.96,"b":-0.905,"t":1.25,"u":1.3,"v":-0.366},{"a":-0.905,"b":-0.85,"t":1.25,"u":1.3,"v":-0.306},{"a":-0.85,"b":-0.795,"t":1.25,"u":1.3,"v":-0.238},{"a":-0.795,"b":-0.74,"t":1.25,"u":1.3,"v":-0.16},{"a":-0.74,"b":-0.685,"t":1.25,"u":1.3,"v":-0.073},{"a":-0.685,"b":-0.63,"t":1.25,"u":1.3,"v":0.021},{"a":-0.63,"b":-0.575,"t":1.25,"u":1.3,"v":0.118},{"a":-0.575,"b":-0.52,"t":1.25,"u":1.3,"v":0.218},{"a":-0.52,"b":-0.465,"t":1.25,"u":1.3,"v":0.315},{"a":-0.465,"b":-0.41,"t":1.25,"u":1.3,"v":0.409},{"a":-0.41,"b":-0.355,"t":1.25,"u":1.3,"v":0.496},{"a":-0.355,"b":-0.3,"t":1.25,"u":1.3,"v":0.574},{"a":-0.3,"b":-0.245,"t":1.25,"u":1.3,"v":0.642},{"a":-0.245,"b":-0.19,"t":1.25,"u":1.3,"v":0.702},{"a":-0.19,"b":-0.135,"t":1.25,"u":1.3,"v":0.752},{"a":-0.135,"b":-0.025,"t":1.25,"u":1.3,"v":0.798},{"a":-0.025,"b":0.085,"t":1.25,"u":1.3,"v":0.837},{"a":0.085,"b":0.195,"t":1.25,"u":1.3,"v":0.869},{"a":0.195,"b":0.305,"t":1.25,"u":1.3,"v":0.892},{"a":0.305,"b":0.525,"t":1.25,"u":1.3,"v":0.917},{"a":0.525,"b":0.745,"t":1.25,"u":1.3,"v":0.938},{"a":0.745,"b":4,"t":1.25,"u":1.3,"v":0.959},
{"a":-6,"b":-1.95,"t":1.3,"u":1.35,"v":-0.6},{"a":-1.95,"b":-1.7125,"t":1.3,"u":1.35,"v":-0.579},{"a":-1.7125,"b":-1.475,"t":1.3,"u":1.35,"v":-0.559},{"a":-1.475,"b":-1.356,"t":1.3,"u":1.35,"v":-0.535},{"a":-1.356,"b":-1.2375,"t":1.3,"u":1.35,"v":-0.511},{"a":-1.2375,"b":-1.119,"t":1.3,"u":1.35,"v":-0.481},{"a":-1.119,"b":-1.0,"t":1.3,"u":1.35,"v":-0.442},{"a":-1.0,"b":-0.941,"t":1.3,"u":1.35,"v":-0.398},{"a":-0.941,"b":-0.881,"t":1.3,"u":1.35,"v":-0.348},{"a":-0.881,"b":-0.822,"t":1.3,"u":1.35,"v":-0.29},{"a":-0.822,"b":-0.7625,"t":1.3,"u":1.35,"v":-0.223},{"a":-0.7625,"b":-0.703,"t":1.3,"u":1.35,"v":-0.146},{"a":-0.703,"b":-0.644,"t":1.3,"u":1.35,"v":-0.061},{"a":-0.644,"b":-0.584,"t":1.3,"u":1.35,"v":0.031},{"a":-0.584,"b":-0.525,"t":1.3,"u":1.35,"v":0.126},{"a":-0.525,"b":-0.466,"t":1.3,"u":1.35,"v":0.224},{"a":-0.466,"b":-0.406,"t":1.3,"u":1.35,"v":0.32},{"a":-0.406,"b":-0.347,"t":1.3,"u":1.35,"v":0.411},{"a":-0.347,"b":-0.2875,"t":1.3,"u":1.35,"v":0.496},{"a":-0.2875,"b":-0.228,"t":1.3,"u":1.35,"v":0.573},{"a":-0.228,"b":-0.169,"t":1.3,"u":1.35,"v":0.64},{"a":-0.169,"b":-0.109,"t":1.3,"u":1.35,"v":0.698},{"a":-0.109,"b":-0.05,"t":1.3,"u":1.35,"v":0.748},{"a":-0.05,"b":0.069,"t":1.3,"u":1.35,"v":0.792},{"a":0.069,"b":0.1875,"t":1.3,"u":1.35,"v":0.831},{"a":0.1875,"b":0.306,"t":1.3,"u":1.35,"v":0.861},{"a":0.306,"b":0.425,"t":1.3,"u":1.35,"v":0.885},{"a":0.425,"b":0.6625,"t":1.3,"u":1.35,"v":0.909},{"a":0.6625,"b":0.9,"t":1.3,"u":1.35,"v":0.929},{"a":0.9,"b":4,"t":1.3,"u":1.35,"v":0.95},
{"a":-6,"b":-2.005,"t":1.35,"u":1.4,"v":-0.58},{"a":-2.005,"b":-1.75,"t":1.35,"u":1.4,"v":-0.56},{"a":-1.75,"b":-1.495,"t":1.35,"u":1.4,"v":-0.54},{"a":-1.495,"b":-1.3675,"t":1.35,"u":1.4,"v":-0.516},{"a":-1.3675,"b":-1.24,"t":1.35,"u":1.4,"v":-0.493},{"a":-1.24,"b":-1.1125,"t":1.35,"u":1.4,"v":-0.463},{"a":-1.1125,"b":-0.985,"t":1.35,"u":1.4,"v":-0.426},{"a":-0.985,"b":-0.921,"t":1.35,"u":1.4,"v":-0.382},{"a":-0.921,"b":-0.8575,"t":1.35,"u":1.4,"v":-0.333},{"a":-0.8575,"b":-0.794,"t":1.35,"u":1.4,"v":-0.276},{"a":-0.794,"b":-0.73,"t":1.35,"u":1.4,"v":-0.21},{"a":-0.73,"b":-0.666,"t":1.35,"u":1.4,"v":-0.135},{"a":-0.666,"b":-0.6025,"t":1.35,"u":1.4,"v":-0.052},{"a":-0.6025,"b":-0.539,"t":1.35,"u":1.4,"v":0.038},{"a":-0.539,"b":-0.475,"t":1.35,"u":1.4,"v":0.132},{"a":-0.475,"b":-0.411,"t":1.35,"u":1.4,"v":0.228},{"a":-0.411,"b":-0.3475,"t":1.35,"u":1.4,"v":0.322},{"a":-0.3475,"b":-0.284,"t":1.35,"u":1.4,"v":0.412},{"a":-0.284,"b":-0.22,"t":1.35,"u":1.4,"v":0.495},{"a":-0.22,"b":-0.156,"t":1.35,"u":1.4,"v":0.57},{"a":-0.156,"b":-0.0925,"t":1.35,"u":1.4,"v":0.636},{"a":-0.0925,"b":-0.029,"t":1.35,"u":1.4,"v":0.693},{"a":-0.029,"b":0.035,"t":1.35,"u":1.4,"v":0.742},{"a":0.035,"b":0.1625,"t":1.35,"u":1.4,"v":0.786},{"a":0.1625,"b":0.29,"t":1.35,"u":1.4,"v":0.823},{"a":0.29,"b":0.4175,"t":1.35,"u":1.4,"v":0.853},{"a":0.4175,"b":0.545,"t":1.35,"u":1.4,"v":0.876},{"a":0.545,"b":0.8,"t":1.35,"u":1.4,"v":0.9},{"a":0.8,"b":1.055,"t":1.35,"u":1.4,"v":0.92},{"a":1.055,"b":4,"t":1.35,"u":1.4,"v":0.94},
{"a":-6,"b":-2.07,"t":1.4,"u":1.45,"v":-0.561},{"a":-2.07,"b":-1.795,"t":1.4,"u":1.45,"v":-0.54},{"a":-1.795,"b":-1.52,"t":1.4,"u":1.45,"v":-0.521},{"a":-1.52,"b":-1.3825,"t":1.4,"u":1.45,"v":-0.498},{"a":-1.3825,"b":-1.245,"t":1.4,"u":1.45,"v":-0.475},{"a":-1.245,"b":-1.1075,"t":1.4,"u":1.45,"v":-0.446},{"a":-1.1075,"b":-0.97,"t":1.4,"u":1.45,"v":-0.409},{"a":-0.97,"b":-0.901,"t":1.4,"u":1.45,"v":-0.366},{"a":-0.901,"b":-0.8325,"t":1.4,"u":1.45,"v":-0.319},{"a":-0.8325,"b":-0.764,"t":1.4,"u":1.45,"v":-0.262},{"a":-0.764,"b":-0.695,"t":1.4,"u":1.45,"v":-0.198},{"a":-0.695,"b":-0.626,"t":1.4,"u":1.45,"v":-0.125},{"a":-0.626,"b":-0.5575,"t":1.4,"u":1.45,"v":-0.043},{"a":-0.5575,"b":-0.489,"t":1.4,"u":1.45,"v":0.045},{"a":-0.489,"b":-0.42,"t":1.4,"u":1.45,"v":0.137},{"a":-0.42,"b":-0.351,"t":1.4,"u":1.45,"v":0.231},{"a":-0.351,"b":-0.2825,"t":1.4,"u":1.45,"v":0.323},{"a":-0.2825,"b":-0.214,"t":1.4,"u":1.45,"v":0.411},{"a":-0.214,"b":-0.145,"t":1.4,"u":1.45,"v":0.493},{"a":-0.145,"b":-0.076,"t":1.4,"u":1.45,"v":0.566},{"a":-0.076,"b":-0.0075,"t":1.4,"u":1.45,"v":0.63},{"a":-0.0075,"b":0.061,"t":1.4,"u":1.45,"v":0.687},{"a":0.061,"b":0.13,"t":1.4,"u":1.45,"v":0.734},{"a":0.13,"b":0.2675,"t":1.4,"u":1.45,"v":0.777},{"a":0.2675,"b":0.405,"t":1.4,"u":1.45,"v":0.814},{"a":0.405,"b":0.5425,"t":1.4,"u":1.45,"v":0.843},{"a":0.5425,"b":0.68,"t":1.4,"u":1.45,"v":0.866},{"a":0.68,"b":0.955,"t":1.4,"u":1.45,"v":0.889},{"a":0.955,"b":1.23,"t":1.4,"u":1.45,"v":0.908},{"a":1.23,"b":4,"t":1.4,"u":1.45,"v":0.929},
{"a":-6,"b":-2.13,"t":1.45,"u":1.5,"v":-0.543},{"a":-2.13,"b":-1.835,"t":1.45,"u":1.5,"v":-0.523},{"a":-1.835,"b":-1.54,"t":1.45,"u":1.5,"v":-0.504},{"a":-1.54,"b":-1.3925,"t":1.45,"u":1.5,"v":-0.481},{"a":-1.3925,"b":-1.245,"t":1.45,"u":1.5,"v":-0.459},{"a":-1.245,"b":-1.0975,"t":1.45,"u":1.5,"v":-0.431},{"a":-1.0975,"b":-0.95,"t":1.45,"u":1.5,"v":-0.394},{"a":-0.95,"b":-0.876,"t":1.45,"u":1.5,"v":-0.352},{"a":-0.876,"b":-0.8025,"t":1.45,"u":1.5,"v":-0.306},{"a":-0.8025,"b":-0.729,"t":1.45,"u":1.5,"v":-0.251},{"a":-0.729,"b":-0.655,"t":1.45,"u":1.5,"v":-0.188},{"a":-0.655,"b":-0.581,"t":1.45,"u":1.5,"v":-0.116},{"a":-0.581,"b":-0.5075,"t":1.45,"u":1.5,"v":-0.036},{"a":-0.5075,"b":-0.434,"t":1.45,"u":1.5,"v":0.05},{"a":-0.434,"b":-0.36,"t":1.45,"u":1.5,"v":0.14},{"a":-0.36,"b":-0.286,"t":1.45,"u":1.5,"v":0.231},{"a":-0.286,"b":-0.2125,"t":1.45,"u":1.5,"v":0.321},{"a":-0.2125,"b":-0.139,"t":1.45,"u":1.5,"v":0.407},{"a":-0.139,"b":-0.065,"t":1.45,"u":1.5,"v":0.487},{"a":-0.065,"b":0.009,"t":1.45,"u":1.5,"v":0.559},{"a":0.009,"b":0.0825,"t":1.45,"u":1.5,"v":0.622},{"a":0.0825,"b":0.156,"t":1.45,"u":1.5,"v":0.677},{"a":0.156,"b":0.23,"t":1.45,"u":1.5,"v":0.723},{"a":0.23,"b":0.3775,"t":1.45,"u":1.5,"v":0.765},{"a":0.3775,"b":0.525,"t":1.45,"u":1.5,"v":0.802},{"a":0.525,"b":0.6725,"t":1.45,"u":1.5,"v":0.83},{"a":0.6725,"b":0.82,"t":1.45,"u":1.5,"v":0.852},{"a":0.82,"b":1.115,"t":1.45,"u":1.5,"v":0.875},{"a":1.115,"b":1.41,"t":1.45,"u":1.5,"v":0.894},{"a":1.41,"b":4,"t":1.45,"u":1.5,"v":0.914},
{"a":-6,"b":-2.185,"t":1.5,"u":1.55,"v":-0.526},{"a":-2.185,"b":-1.8725,"t":1.5,"u":1.55,"v":-0.506},{"a":-1.8725,"b":-1.56,"t":1.5,"u":1.55,"v":-0.488},{"a":-1.56,"b":-1.404,"t":1.5,"u":1.55,"v":-0.465},{"a":-1.404,"b":-1.2475,"t":1.5,"u":1.55,"v":-0.444},{"a":-1.2475,"b":-1.091,"t":1.5,"u":1.55,"v":-0.416},{"a":-1.091,"b":-0.935,"t":1.5,"u":1.55,"v":-0.38},{"a":-0.935,"b":-0.857,"t":1.5,"u":1.55,"v":-0.339},{"a":-0.857,"b":-0.779,"t":1.5,"u":1.55,"v":-0.294},{"a":-0.779,"b":-0.701,"t":1.5,"u":1.55,"v":-0.24},{"a":-0.701,"b":-0.6225,"t":1.5,"u":1.55,"v":-0.178},{"a":-0.6225,"b":-0.544,"t":1.5,"u":1.55,"v":-0.108},{"a":-0.544,"b":-0.466,"t":1.5,"u":1.55,"v":-0.03},{"a":-0.466,"b":-0.388,"t":1.5,"u":1.55,"v":0.055},{"a":-0.388,"b":-0.31,"t":1.5,"u":1.55,"v":0.143},{"a":-0.31,"b":-0.232,"t":1.5,"u":1.55,"v":0.232},{"a":-0.232,"b":-0.154,"t":1.5,"u":1.55,"v":0.32},{"a":-0.154,"b":-0.076,"t":1.5,"u":1.55,"v":0.405},{"a":-0.076,"b":0.0025,"t":1.5,"u":1.55,"v":0.483},{"a":0.0025,"b":0.081,"t":1.5,"u":1.55,"v":0.553},{"a":0.081,"b":0.159,"t":1.5,"u":1.55,"v":0.615},{"a":0.159,"b":0.237,"t":1.5,"u":1.55,"v":0.669},{"a":0.237,"b":0.315,"t":1.5,"u":1.55,"v":0.714},{"a":0.315,"b":0.471,"t":1.5,"u":1.55,"v":0.756},{"a":0.471,"b":0.6275,"t":1.5,"u":1.55,"v":0.791},{"a":0.6275,"b":0.784,"t":1.5,"u":1.55,"v":0.819},{"a":0.784,"b":0.94,"t":1.5,"u":1.55,"v":0.84},{"a":0.94,"b":1.2525,"t":1.5,"u":1.55,"v":0.863},{"a":1.2525,"b":1.565,"t":1.5,"u":1.55,"v":0.881},{"a":1.565,"b":4,"t":1.5,"u":1.55,"v":0.901},
{"a":-6,"b":-2.23,"t":1.55,"u":1.6,"v":-0.511},{"a":-2.23,"b":-1.905,"t":1.55,"u":1.6,"v":-0.492},{"a":-1.905,"b":-1.58,"t":1.55,"u":1.6,"v":-0.474},{"a":-1.58,"b":-1.4175,"t":1.55,"u":1.6,"v":-0.452},{"a":-1.4175,"b":-1.255,"t":1.55,"u":1.6,"v":-0.431},{"a":-1.255,"b":-1.0925,"t":1.55,"u":1.6,"v":-0.403},{"a":-1.0925,"b":-0.93,"t":1.55,"u":1.6,"v":-0.368},{"a":-0.93,"b":-0.849,"t":1.55,"u":1.6,"v":-0.328},{"a":-0.849,"b":-0.7675,"t":1.55,"u":1.6,"v":-0.283},{"a":-0.7675,"b":-0.686,"t":1.55,"u":1.6,"v":-0.231},{"a":-0.686,"b":-0.605,"t":1.55,"u":1.6,"v":-0.17},{"a":-0.605,"b":-0.524,"t":1.55,"u":1.6,"v":-0.101},{"a":-0.524,"b":-0.4425,"t":1.55,"u":1.6,"v":-0.024},{"a":-0.4425,"b":-0.361,"t":1.55,"u":1.6,"v":0.059},{"a":-0.361,"b":-0.28,"t":1.55,"u":1.6,"v":0.145},{"a":-0.28,"b":-0.199,"t":1.55,"u":1.6,"v":0.233},{"a":-0.199,"b":-0.1175,"t":1.55,"u":1.6,"v":0.319},{"a":-0.1175,"b":-0.036,"t":1.55,"u":1.6,"v":0.402},{"a":-0.036,"b":0.045,"t":1.55,"u":1.6,"v":0.479},{"a":0.045,"b":0.126,"t":1.55,"u":1.6,"v":0.548},{"a":0.126,"b":0.2075,"t":1.55,"u":1.6,"v":0.609},{"a":0.2075,"b":0.289,"t":1.55,"u":1.6,"v":0.661},{"a":0.289,"b":0.37,"t":1.55,"u":1.6,"v":0.706},{"a":0.37,"b":0.5325,"t":1.55,"u":1.6,"v":0.746},{"a":0.5325,"b":0.695,"t":1.55,"u":1.6,"v":0.781},{"a":0.695,"b":0.8575,"t":1.55,"u":1.6,"v":0.809},{"a":0.8575,"b":1.02,"t":1.55,"u":1.6,"v":0.83},{"a":1.02,"b":1.345,"t":1.55,"u":1.6,"v":0.852},{"a":1.345,"b":1.67,"t":1.55,"u":1.6,"v":0.87},{"a":1.67,"b":4,"t":1.55,"u":1.6,"v":0.889},
{"a":-6,"b":-2.285,"t":1.6,"u":1.65,"v":-0.496},{"a":-2.285,"b":-1.9475,"t":1.6,"u":1.65,"v":-0.477},{"a":-1.9475,"b":-1.61,"t":1.6,"u":1.65,"v":-0.459},{"a":-1.61,"b":-1.441,"t":1.6,"u":1.65,"v":-0.438},{"a":-1.441,"b":-1.2725,"t":1.6,"u":1.65,"v":-0.417},{"a":-1.2725,"b":-1.104,"t":1.6,"u":1.65,"v":-0.39},{"a":-1.104,"b":-0.935,"t":1.6,"u":1.65,"v":-0.356},{"a":-0.935,"b":-0.851,"t":1.6,"u":1.65,"v":-0.317},{"a":-0.851,"b":-0.766,"t":1.6,"u":1.65,"v":-0.273},{"a":-0.766,"b":-0.682,"t":1.6,"u":1.65,"v":-0.221},{"a":-0.682,"b":-0.5975,"t":1.6,"u":1.65,"v":-0.162},{"a":-0.5975,"b":-0.513,"t":1.6,"u":1.65,"v":-0.094},{"a":-0.513,"b":-0.429,"t":1.6,"u":1.65,"v":-0.019},{"a":-0.429,"b":-0.344,"t":1.6,"u":1.65,"v":0.062},{"a":-0.344,"b":-0.26,"t":1.6,"u":1.65,"v":0.147},{"a":-0.26,"b":-0.176,"t":1.6,"u":1.65,"v":0.233},{"a":-0.176,"b":-0.091,"t":1.6,"u":1.65,"v":0.318},{"a":-0.091,"b":-0.007,"t":1.6,"u":1.65,"v":0.399},{"a":-0.007,"b":0.0775,"t":1.6,"u":1.65,"v":0.474},{"a":0.0775,"b":0.162,"t":1.6,"u":1.65,"v":0.542},{"a":0.162,"b":0.246,"t":1.6,"u":1.65,"v":0.601},{"a":0.246,"b":0.331,"t":1.6,"u":1.65,"v":0.653},{"a":0.331,"b":0.415,"t":1.6,"u":1.65,"v":0.697},{"a":0.415,"b":0.584,"t":1.6,"u":1.65,"v":0.736},{"a":0.584,"b":0.7525,"t":1.6,"u":1.65,"v":0.77},{"a":0.7525,"b":0.921,"t":1.6,"u":1.65,"v":0.797},{"a":0.921,"b":1.09,"t":1.6,"u":1.65,"v":0.818},{"a":1.09,"b":1.4275,"t":1.6,"u":1.65,"v":0.839},{"a":1.4275,"b":1.765,"t":1.6,"u":1.65,"v":0.857},{"a":1.765,"b":4,"t":1.6,"u":1.65,"v":0.876},
{"a":-6,"b":-2.34,"t":1.65,"u":1.7,"v":-0.481},{"a":-2.34,"b":-1.99,"t":1.65,"u":1.7,"v":-0.463},{"a":-1.99,"b":-1.64,"t":1.65,"u":1.7,"v":-0.445},{"a":-1.64,"b":-1.465,"t":1.65,"u":1.7,"v":-0.424},{"a":-1.465,"b":-1.29,"t":1.65,"u":1.7,"v":-0.404},{"a":-1.29,"b":-1.115,"t":1.65,"u":1.7,"v":-0.378},{"a":-1.115,"b":-0.94,"t":1.65,"u":1.7,"v":-0.344},{"a":-0.94,"b":-0.8525,"t":1.65,"u":1.7,"v":-0.305},{"a":-0.8525,"b":-0.765,"t":1.65,"u":1.7,"v":-0.263},{"a":-0.765,"b":-0.6775,"t":1.65,"u":1.7,"v":-0.212},{"a":-0.6775,"b":-0.59,"t":1.65,"u":1.7,"v":-0.154},{"a":-0.59,"b":-0.5025,"t":1.65,"u":1.7,"v":-0.088},{"a":-0.5025,"b":-0.415,"t":1.65,"u":1.7,"v":-0.014},{"a":-0.415,"b":-0.3275,"t":1.65,"u":1.7,"v":0.065},{"a":-0.3275,"b":-0.24,"t":1.65,"u":1.7,"v":0.148},{"a":-0.24,"b":-0.1525,"t":1.65,"u":1.7,"v":0.232},{"a":-0.1525,"b":-0.065,"t":1.65,"u":1.7,"v":0.315},{"a":-0.065,"b":0.0225,"t":1.65,"u":1.7,"v":0.394},{"a":0.0225,"b":0.11,"t":1.65,"u":1.7,"v":0.468},{"a":0.11,"b":0.1975,"t":1.65,"u":1.7,"v":0.534},{"a":0.1975,"b":0.285,"t":1.65,"u":1.7,"v":0.592},{"a":0.285,"b":0.3725,"t":1.65,"u":1.7,"v":0.643},{"a":0.3725,"b":0.46,"t":1.65,"u":1.7,"v":0.686},{"a":0.46,"b":0.635,"t":1.65,"u":1.7,"v":0.724},{"a":0.635,"b":0.81,"t":1.65,"u":1.7,"v":0.758},{"a":0.81,"b":0.985,"t":1.65,"u":1.7,"v":0.784},{"a":0.985,"b":1.16,"t":1.65,"u":1.7,"v":0.804},{"a":1.16,"b":1.51,"t":1.65,"u":1.7,"v":0.825},{"a":1.51,"b":1.86,"t":1.65,"u":1.7,"v":0.843},{"a":1.86,"b":4,"t":1.65,"u":1.7,"v":0.861},
{"a":-6,"b":-2.395,"t":1.7,"u":1.75,"v":-0.466},{"a":-2.395,"b":-2.0325,"t":1.7,"u":1.75,"v":-0.448},{"a":-2.0325,"b":-1.67,"t":1.7,"u":1.75,"v":-0.431},{"a":-1.67,"b":-1.489,"t":1.7,"u":1.75,"v":-0.411},{"a":-1.489,"b":-1.3075,"t":1.7,"u":1.75,"v":-0.391},{"a":-1.3075,"b":-1.126,"t":1.7,"u":1.75,"v":-0.365},{"a":-1.126,"b":-0.945,"t":1.7,"u":1.75,"v":-0.333},{"a":-0.945,"b":-0.854,"t":1.7,"u":1.75,"v":-0.295},{"a":-0.854,"b":-0.764,"t":1.7,"u":1.75,"v":-0.253},{"a":-0.764,"b":-0.673,"t":1.7,"u":1.75,"v":-0.204},{"a":-0.673,"b":-0.5825,"t":1.7,"u":1.75,"v":-0.147},{"a":-0.5825,"b":-0.492,"t":1.7,"u":1.75,"v":-0.083},{"a":-0.492,"b":-0.401,"t":1.7,"u":1.75,"v":-0.011},{"a":-0.401,"b":-0.311,"t":1.7,"u":1.75,"v":0.067},{"a":-0.311,"b":-0.22,"t":1.7,"u":1.75,"v":0.148},{"a":-0.22,"b":-0.129,"t":1.7,"u":1.75,"v":0.23},{"a":-0.129,"b":-0.039,"t":1.7,"u":1.75,"v":0.311},{"a":-0.039,"b":0.052,"t":1.7,"u":1.75,"v":0.389},{"a":0.052,"b":0.1425,"t":1.7,"u":1.75,"v":0.461},{"a":0.1425,"b":0.233,"t":1.7,"u":1.75,"v":0.525},{"a":0.233,"b":0.324,"t":1.7,"u":1.75,"v":0.582},{"a":0.324,"b":0.414,"t":1.7,"u":1.75,"v":0.631},{"a":0.414,"b":0.505,"t":1.7,"u":1.75,"v":0.673},{"a":0.505,"b":0.686,"t":1.7,"u":1.75,"v":0.711},{"a":0.686,"b":0.8675,"t":1.7,"u":1.75,"v":0.743},{"a":0.8675,"b":1.049,"t":1.7,"u":1.75,"v":0.769},{"a":1.049,"b":1.23,"t":1.7,"u":1.75,"v":0.789},{"a":1.23,"b":1.5925,"t":1.7,"u":1.75,"v":0.809},{"a":1.5925,"b":1.955,"t":1.7,"u":1.75,"v":0.826},{"a":1.955,"b":4,"t":1.7,"u":1.75,"v":0.844},
{"a":-6,"b":-2.45,"t":1.75,"u":1.8,"v":-0.451},{"a":-2.45,"b":-2.075,"t":1.75,"u":1.8,"v":-0.434},{"a":-2.075,"b":-1.7,"t":1.75,"u":1.8,"v":-0.417},{"a":-1.7,"b":-1.5125,"t":1.75,"u":1.8,"v":-0.397},{"a":-1.5125,"b":-1.325,"t":1.75,"u":1.8,"v":-0.378},{"a":-1.325,"b":-1.1375,"t":1.75,"u":1.8,"v":-0.353},{"a":-1.1375,"b":-0.95,"t":1.75,"u":1.8,"v":-0.321},{"a":-0.95,"b":-0.856,"t":1.75,"u":1.8,"v":-0.284},{"a":-0.856,"b":-0.7625,"t":1.75,"u":1.8,"v":-0.244},{"a":-0.7625,"b":-0.669,"t":1.75,"u":1.8,"v":-0.195},{"a":-0.669,"b":-0.575,"t":1.75,"u":1.8,"v":-0.14},{"a":-0.575,"b":-0.481,"t":1.75,"u":1.8,"v":-0.077},{"a":-0.481,"b":-0.3875,"t":1.75,"u":1.8,"v":-0.007},{"a":-0.3875,"b":-0.294,"t":1.75,"u":1.8,"v":0.069},{"a":-0.294,"b":-0.2,"t":1.75,"u":1.8,"v":0.147},{"a":-0.2,"b":-0.106,"t":1.75,"u":1.8,"v":0.228},{"a":-0.106,"b":-0.0125,"t":1.75,"u":1.8,"v":0.307},{"a":-0.0125,"b":0.081,"t":1.75,"u":1.8,"v":0.382},{"a":0.081,"b":0.175,"t":1.75,"u":1.8,"v":0.452},{"a":0.175,"b":0.269,"t":1.75,"u":1.8,"v":0.515},{"a":0.269,"b":0.3625,"t":1.75,"u":1.8,"v":0.57},{"a":0.3625,"b":0.456,"t":1.75,"u":1.8,"v":0.619},{"a":0.456,"b":0.55,"t":1.75,"u":1.8,"v":0.659},{"a":0.55,"b":0.7375,"t":1.75,"u":1.8,"v":0.696},{"a":0.7375,"b":0.925,"t":1.75,"u":1.8,"v":0.728},{"a":0.925,"b":1.1125,"t":1.75,"u":1.8,"v":0.753},{"a":1.1125,"b":1.3,"t":1.75,"u":1.8,"v":0.772},{"a":1.3,"b":1.675,"t":1.75,"u":1.8,"v":0.792},{"a":1.675,"b":2.05,"t":1.75,"u":1.8,"v":0.809},{"a":2.05,"b":4,"t":1.75,"u":1.8,"v":0.826},
{"a":-6,"b":-2.52,"t":1.8,"u":1.85,"v":-0.436},{"a":-2.52,"b":-2.13,"t":1.8,"u":1.85,"v":-0.419},{"a":-2.13,"b":-1.74,"t":1.8,"u":1.85,"v":-0.403},{"a":-1.74,"b":-1.545,"t":1.8,"u":1.85,"v":-0.384},{"a":-1.545,"b":-1.35,"t":1.8,"u":1.85,"v":-0.365},{"a":-1.35,"b":-1.155,"t":1.8,"u":1.85,"v":-0.34},{"a":-1.155,"b":-0.96,"t":1.8,"u":1.85,"v":-0.31},{"a":-0.96,"b":-0.8625,"t":1.8,"u":1.85,"v":-0.274},{"a":-0.8625,"b":-0.765,"t":1.8,"u":1.85,"v":-0.234},{"a":-0.765,"b":-0.6675,"t":1.8,"u":1.85,"v":-0.187},{"a":-0.6675,"b":-0.57,"t":1.8,"u":1.85,"v":-0.133},{"a":-0.57,"b":-0.4725,"t":1.8,"u":1.85,"v":-0.072},{"a":-0.4725,"b":-0.375,"t":1.8,"u":1.85,"v":-0.004},{"a":-0.375,"b":-0.2775,"t":1.8,"u":1.85,"v":0.07},{"a":-0.2775,"b":-0.18,"t":1.8,"u":1.85,"v":0.147},{"a":-0.18,"b":-0.0825,"t":1.8,"u":1.85,"v":0.225},{"a":-0.0825,"b":0.015,"t":1.8,"u":1.85,"v":0.302},{"a":0.015,"b":0.1125,"t":1.8,"u":1.85,"v":0.376},{"a":0.1125,"b":0.21,"t":1.8,"u":1.85,"v":0.444},{"a":0.21,"b":0.3075,"t":1.8,"u":1.85,"v":0.505},{"a":0.3075,"b":0.405,"t":1.8,"u":1.85,"v":0.559},{"a":0.405,"b":0.5025,"t":1.8,"u":1.85,"v":0.606},{"a":0.5025,"b":0.6,"t":1.8,"u":1.85,"v":0.646},{"a":0.6,"b":0.795,"t":1.8,"u":1.85,"v":0.682},{"a":0.795,"b":0.99,"t":1.8,"u":1.85,"v":0.713},{"a":0.99,"b":1.185,"t":1.8,"u":1.85,"v":0.737},{"a":1.185,"b":1.38,"t":1.8,"u":1.85,"v":0.756},{"a":1.38,"b":1.77,"t":1.8,"u":1.85,"v":0.775},{"a":1.77,"b":2.16,"t":1.8,"u":1.85,"v":0.791},{"a":2.16,"b":4,"t":1.8,"u":1.85,"v":0.808},
{"a":-6,"b":-2.59,"t":1.85,"u":1.9,"v":-0.42},{"a":-2.59,"b":-2.185,"t":1.85,"u":1.9,"v":-0.404},{"a":-2.185,"b":-1.78,"t":1.85,"u":1.9,"v":-0.388},{"a":-1.78,"b":-1.5775,"t":1.85,"u":1.9,"v":-0.369},{"a":-1.5775,"b":-1.375,"t":1.85,"u":1.9,"v":-0.351},{"a":-1.375,"b":-1.1725,"t":1.85,"u":1.9,"v":-0.327},{"a":-1.1725,"b":-0.97,"t":1.85,"u":1.9,"v":-0.297},{"a":-0.97,"b":-0.869,"t":1.85,"u":1.9,"v":-0.262},{"a":-0.869,"b":-0.7675,"t":1.85,"u":1.9,"v":-0.224},{"a":-0.7675,"b":-0.666,"t":1.85,"u":1.9,"v":-0.178},{"a":-0.666,"b":-0.565,"t":1.85,"u":1.9,"v":-0.126},{"a":-0.565,"b":-0.464,"t":1.85,"u":1.9,"v":-0.066},{"a":-0.464,"b":-0.3625,"t":1.85,"u":1.9,"v":0.0},{"a":-0.3625,"b":-0.261,"t":1.85,"u":1.9,"v":0.072},{"a":-0.261,"b":-0.16,"t":1.85,"u":1.9,"v":0.147},{"a":-0.16,"b":-0.059,"t":1.85,"u":1.9,"v":0.223},{"a":-0.059,"b":0.0425,"t":1.85,"u":1.9,"v":0.297},{"a":0.0425,"b":0.144,"t":1.85,"u":1.9,"v":0.369},{"a":0.144,"b":0.245,"t":1.85,"u":1.9,"v":0.435},{"a":0.245,"b":0.346,"t":1.85,"u":1.9,"v":0.495},{"a":0.346,"b":0.4475,"t":1.85,"u":1.9,"v":0.547},{"a":0.4475,"b":0.549,"t":1.85,"u":1.9,"v":0.593},{"a":0.549,"b":0.65,"t":1.85,"u":1.9,"v":0.631},{"a":0.65,"b":0.8525,"t":1.85,"u":1.9,"v":0.666},{"a":0.8525,"b":1.055,"t":1.85,"u":1.9,"v":0.696},{"a":1.055,"b":1.2575,"t":1.85,"u":1.9,"v":0.72},{"a":1.2575,"b":1.46,"t":1.85,"u":1.9,"v":0.738},{"a":1.46,"b":1.865,"t":1.85,"u":1.9,"v":0.757},{"a":1.865,"b":2.27,"t":1.85,"u":1.9,"v":0.773},{"a":2.27,"b":4,"t":1.85,"u":1.9,"v":0.789},
{"a":-6,"b":-2.66,"t":1.9,"u":1.95,"v":-0.405},{"a":-2.66,"b":-2.24,"t":1.9,"u":1.95,"v":-0.389},{"a":-2.24,"b":-1.82,"t":1.9,"u":1.95,"v":-0.373},{"a":-1.82,"b":-1.61,"t":1.9,"u":1.95,"v":-0.355},{"a":-1.61,"b":-1.4,"t":1.9,"u":1.95,"v":-0.337},{"a":-1.4,"b":-1.19,"t":1.9,"u":1.95,"v":-0.314},{"a":-1.19,"b":-0.98,"t":1.9,"u":1.95,"v":-0.285},{"a":-0.98,"b":-0.875,"t":1.9,"u":1.95,"v":-0.251},{"a":-0.875,"b":-0.77,"t":1.9,"u":1.95,"v":-0.214},{"a":-0.77,"b":-0.665,"t":1.9,"u":1.95,"v":-0.17},{"a":-0.665,"b":-0.56,"t":1.9,"u":1.95,"v":-0.119},{"a":-0.56,"b":-0.455,"t":1.9,"u":1.95,"v":-0.062},{"a":-0.455,"b":-0.35,"t":1.9,"u":1.95,"v":0.003},{"a":-0.35,"b":-0.245,"t":1.9,"u":1.95,"v":0.072},{"a":-0.245,"b":-0.14,"t":1.9,"u":1.95,"v":0.144},{"a":-0.14,"b":-0.035,"t":1.9,"u":1.95,"v":0.218},{"a":-0.035,"b":0.07,"t":1.9,"u":1.95,"v":0.29},{"a":0.07,"b":0.175,"t":1.9,"u":1.95,"v":0.359},{"a":0.175,"b":0.28,"t":1.9,"u":1.95,"v":0.424},{"a":0.28,"b":0.385,"t":1.9,"u":1.95,"v":0.481},{"a":0.385,"b":0.49,"t":1.9,"u":1.95,"v":0.532},{"a":0.49,"b":0.595,"t":1.9,"u":1.95,"v":0.576},{"a":0.595,"b":0.7,"t":1.9,"u":1.95,"v":0.613},{"a":0.7,"b":0.91,"t":1.9,"u":1.95,"v":0.647},{"a":0.91,"b":1.12,"t":1.9,"u":1.95,"v":0.676},{"a":1.12,"b":1.33,"t":1.9,"u":1.95,"v":0.699},{"a":1.33,"b":1.54,"t":1.9,"u":1.95,"v":0.717},{"a":1.54,"b":1.96,"t":1.9,"u":1.95,"v":0.735},{"a":1.96,"b":2.38,"t":1.9,"u":1.95,"v":0.751},{"a":2.38,"b":4,"t":1.9,"u":1.95,"v":0.767},
{"a":-6,"b":-2.73,"t":1.95,"u":2.0,"v":-0.387},{"a":-2.73,"b":-2.295,"t":1.95,"u":2.0,"v":-0.371},{"a":-2.295,"b":-1.86,"t":1.95,"u":2.0,"v":-0.357},{"a":-1.86,"b":-1.6425,"t":1.95,"u":2.0,"v":-0.339},{"a":-1.6425,"b":-1.425,"t":1.95,"u":2.0,"v":-0.322},{"a":-1.425,"b":-1.2075,"t":1.95,"u":2.0,"v":-0.3},{"a":-1.2075,"b":-0.99,"t":1.95,"u":2.0,"v":-0.272},{"a":-0.99,"b":-0.881,"t":1.95,"u":2.0,"v":-0.239},{"a":-0.881,"b":-0.7725,"t":1.95,"u":2.0,"v":-0.203},{"a":-0.7725,"b":-0.664,"t":1.95,"u":2.0,"v":-0.161},{"a":-0.664,"b":-0.555,"t":1.95,"u":2.0,"v":-0.112},{"a":-0.555,"b":-0.446,"t":1.95,"u":2.0,"v":-0.056},{"a":-0.446,"b":-0.3375,"t":1.95,"u":2.0,"v":0.006},{"a":-0.3375,"b":-0.229,"t":1.95,"u":2.0,"v":0.072},{"a":-0.229,"b":-0.12,"t":1.95,"u":2.0,"v":0.142},{"a":-0.12,"b":-0.011,"t":1.95,"u":2.0,"v":0.213},{"a":-0.011,"b":0.0975,"t":1.95,"u":2.0,"v":0.283},{"a":0.0975,"b":0.206,"t":1.95,"u":2.0,"v":0.349},{"a":0.206,"b":0.315,"t":1.95,"u":2.0,"v":0.411},{"a":0.315,"b":0.424,"t":1.95,"u":2.0,"v":0.467},{"a":0.424,"b":0.5325,"t":1.95,"u":2.0,"v":0.516},{"a":0.5325,"b":0.641,"t":1.95,"u":2.0,"v":0.558},{"a":0.641,"b":0.75,"t":1.95,"u":2.0,"v":0.594},{"a":0.75,"b":0.9675,"t":1.95,"u":2.0,"v":0.627},{"a":0.9675,"b":1.185,"t":1.95,"u":2.0,"v":0.655},{"a":1.185,"b":1.4025,"t":1.95,"u":2.0,"v":0.677},{"a":1.4025,"b":1.62,"t":1.95,"u":2.0,"v":0.694},{"a":1.62,"b":2.055,"t":1.95,"u":2.0,"v":0.712},{"a":2.055,"b":2.49,"t":1.95,"u":2.0,"v":0.726},{"a":2.49,"b":4,"t":1.95,"u":2.0,"v":0.742}
]},
"mark":{"type":"rect","strokeWidth":0.8},
"encoding":{
"x":{"field":"a","type":"quantitative","scale":{"domain":[-6.211,4.212],"nice":false,"zero":false},
"axis":{"orient":"bottom","values":[-6,-5.5,-5,-4.5,-4,-3.5,-3,-2.5,-2,-1.5,-1,-0.5,0,0.5,1,1.5,2,2.5,3,3.5,4],"labelExpr":"datum.value % 2 == 0 ? format(datum.value, 'd') : ''","tickSize":0,"labelPadding":26,"labelOverlap":false,"labelFlush":false,"domain":true,"domainColor":"#666666","domainWidth":2,"tickColor":"#666666","tickWidth":1.6,"title":"g","titlePadding":19,"encode":{"ticks":{"update":{"y2":{"signal":"datum.value % 2 == 0 ? -7 : -4"}}}}}},
"x2":{"field":"b"},
"y":{"field":"t","type":"quantitative","scale":{"domain":[-0.0528,2.0429],"nice":false,"zero":false},
"axis":{"orient":"left","values":[0,0.1,0.2,0.3,0.4,0.5,0.6,0.7,0.8,0.9,1,1.1,1.2,1.3,1.4,1.5,1.6,1.7,1.8,1.9,2],"labelExpr":"round(datum.value*10) % 5 == 0 ? format(datum.value, '.1f') : ''","tickSize":0,"labelPadding":15,"labelOverlap":false,"labelFlush":false,"domain":true,"domainColor":"#666666","domainWidth":2,"tickColor":"#666666","tickWidth":1.6,"title":"T","titlePadding":21,"encode":{"ticks":{"update":{"x2":{"signal":"round(datum.value*10) % 5 == 0 ? 7 : 4"}}}}}},
"y2":{"field":"u"},
"color":{"field":"v","type":"quantitative","legend":null,"scale":{"type":"linear","clamp":true,"interpolate":"rgb","domain":[-1,-0.95,-0.9,-0.85,-0.8,-0.7,-0.6,-0.5,-0.4,-0.3,-0.2,-0.1,0,0.1,0.2,0.3,0.4,0.5,0.6,0.7,0.8,0.9,1],"range":["#781C86","#601C9B","#4E1DAA","#4526B6","#4035C1","#3E4FCB","#406AD1","#457FCC","#4D8EBE","#579CAA","#63A895","#73B17F","#88B96C","#A0BD5C","#B6BC50","#C8B646","#D6AB3F","#E09A39","#E48634","#E56E30","#E2552B","#DC3A25","#D92121"]}},
"stroke":{"field":"v","type":"quantitative","legend":null,"scale":{"type":"linear","clamp":true,"interpolate":"rgb","domain":[-1,-0.95,-0.9,-0.85,-0.8,-0.7,-0.6,-0.5,-0.4,-0.3,-0.2,-0.1,0,0.1,0.2,0.3,0.4,0.5,0.6,0.7,0.8,0.9,1],"range":["#781C86","#601C9B","#4E1DAA","#4526B6","#4035C1","#3E4FCB","#406AD1","#457FCC","#4D8EBE","#579CAA","#63A895","#73B17F","#88B96C","#A0BD5C","#B6BC50","#C8B646","#D6AB3F","#E09A39","#E48634","#E56E30","#E2552B","#DC3A25","#D92121"]}}
}
},
{
"data":{"values":[{"a":-6,"t":0},{"a":4,"t":2}]},
"mark":{"type":"point","opacity":0},
"encoding":{
"x":{"field":"a","type":"quantitative","scale":{"domain":[-6.211,4.212],"nice":false,"zero":false},
"axis":{"orient":"top","values":[-6,-5.5,-5,-4.5,-4,-3.5,-3,-2.5,-2,-1.5,-1,-0.5,0,0.5,1,1.5,2,2.5,3,3.5,4],"labels":false,"tickSize":0,"domain":true,"domainColor":"#666666","domainWidth":2,"tickColor":"#666666","tickWidth":1.6,"title":null,"encode":{"ticks":{"update":{"y2":{"signal":"datum.value % 2 == 0 ? 7 : 4"}}}}}},
"y":{"field":"t","type":"quantitative","scale":{"domain":[-0.0528,2.0429],"nice":false,"zero":false},
"axis":{"orient":"right","values":[0,0.1,0.2,0.3,0.4,0.5,0.6,0.7,0.8,0.9,1,1.1,1.2,1.3,1.4,1.5,1.6,1.7,1.8,1.9,2],"labels":false,"tickSize":0,"domain":true,"domainColor":"#666666","domainWidth":2,"tickColor":"#666666","tickWidth":1.6,"title":null,"encode":{"ticks":{"update":{"x2":{"signal":"round(datum.value*10) % 5 == 0 ? -7 : -4"}}}}}}
}
}
],
"resolve":{"axis":{"x":"independent","y":"independent"}}
},
{
"width":57,"height":1390,
"data":{"values":[
{"a":-1,"b":-0.975,"v":-0.9875},{"a":-0.975,"b":-0.95,"v":-0.9625},{"a":-0.95,"b":-0.925,"v":-0.9375},{"a":-0.925,"b":-0.9,"v":-0.9125},{"a":-0.9,"b":-0.875,"v":-0.8875},{"a":-0.875,"b":-0.85,"v":-0.8625},{"a":-0.85,"b":-0.825,"v":-0.8375},{"a":-0.825,"b":-0.8,"v":-0.8125},{"a":-0.8,"b":-0.775,"v":-0.7875},{"a":-0.775,"b":-0.75,"v":-0.7625},
{"a":-0.75,"b":-0.725,"v":-0.7375},{"a":-0.725,"b":-0.7,"v":-0.7125},{"a":-0.7,"b":-0.675,"v":-0.6875},{"a":-0.675,"b":-0.65,"v":-0.6625},{"a":-0.65,"b":-0.625,"v":-0.6375},{"a":-0.625,"b":-0.6,"v":-0.6125},{"a":-0.6,"b":-0.575,"v":-0.5875},{"a":-0.575,"b":-0.55,"v":-0.5625},{"a":-0.55,"b":-0.525,"v":-0.5375},{"a":-0.525,"b":-0.5,"v":-0.5125},
{"a":-0.5,"b":-0.475,"v":-0.4875},{"a":-0.475,"b":-0.45,"v":-0.4625},{"a":-0.45,"b":-0.425,"v":-0.4375},{"a":-0.425,"b":-0.4,"v":-0.4125},{"a":-0.4,"b":-0.375,"v":-0.3875},{"a":-0.375,"b":-0.35,"v":-0.3625},{"a":-0.35,"b":-0.325,"v":-0.3375},{"a":-0.325,"b":-0.3,"v":-0.3125},{"a":-0.3,"b":-0.275,"v":-0.2875},{"a":-0.275,"b":-0.25,"v":-0.2625},
{"a":-0.25,"b":-0.225,"v":-0.2375},{"a":-0.225,"b":-0.2,"v":-0.2125},{"a":-0.2,"b":-0.175,"v":-0.1875},{"a":-0.175,"b":-0.15,"v":-0.1625},{"a":-0.15,"b":-0.125,"v":-0.1375},{"a":-0.125,"b":-0.1,"v":-0.1125},{"a":-0.1,"b":-0.075,"v":-0.0875},{"a":-0.075,"b":-0.05,"v":-0.0625},{"a":-0.05,"b":-0.025,"v":-0.0375},{"a":-0.025,"b":0,"v":-0.0125},
{"a":0,"b":0.025,"v":0.0125},{"a":0.025,"b":0.05,"v":0.0375},{"a":0.05,"b":0.075,"v":0.0625},{"a":0.075,"b":0.1,"v":0.0875},{"a":0.1,"b":0.125,"v":0.1125},{"a":0.125,"b":0.15,"v":0.1375},{"a":0.15,"b":0.175,"v":0.1625},{"a":0.175,"b":0.2,"v":0.1875},{"a":0.2,"b":0.225,"v":0.2125},{"a":0.225,"b":0.25,"v":0.2375},
{"a":0.25,"b":0.275,"v":0.2625},{"a":0.275,"b":0.3,"v":0.2875},{"a":0.3,"b":0.325,"v":0.3125},{"a":0.325,"b":0.35,"v":0.3375},{"a":0.35,"b":0.375,"v":0.3625},{"a":0.375,"b":0.4,"v":0.3875},{"a":0.4,"b":0.425,"v":0.4125},{"a":0.425,"b":0.45,"v":0.4375},{"a":0.45,"b":0.475,"v":0.4625},{"a":0.475,"b":0.5,"v":0.4875},
{"a":0.5,"b":0.525,"v":0.5125},{"a":0.525,"b":0.55,"v":0.5375},{"a":0.55,"b":0.575,"v":0.5625},{"a":0.575,"b":0.6,"v":0.5875},{"a":0.6,"b":0.625,"v":0.6125},{"a":0.625,"b":0.65,"v":0.6375},{"a":0.65,"b":0.675,"v":0.6625},{"a":0.675,"b":0.7,"v":0.6875},{"a":0.7,"b":0.725,"v":0.7125},{"a":0.725,"b":0.75,"v":0.7375},
{"a":0.75,"b":0.775,"v":0.7625},{"a":0.775,"b":0.8,"v":0.7875},{"a":0.8,"b":0.825,"v":0.8125},{"a":0.825,"b":0.85,"v":0.8375},{"a":0.85,"b":0.875,"v":0.8625},{"a":0.875,"b":0.9,"v":0.8875},{"a":0.9,"b":0.925,"v":0.9125},{"a":0.925,"b":0.95,"v":0.9375},{"a":0.95,"b":0.975,"v":0.9625},{"a":0.975,"b":1,"v":0.9875}
]},
"mark":{"type":"rect","strokeWidth":0.8},
"encoding":{
"x":{"datum":0,"type":"quantitative","scale":{"domain":[0,1],"nice":false,"zero":false},"axis":null},
"x2":{"datum":1},
"y":{"field":"a","type":"quantitative","scale":{"domain":[-1,1.0322],"nice":false,"zero":false},
"axis":{"orient":"right","values":[-1,-0.9,-0.8,-0.7,-0.6,-0.5,-0.4,-0.3,-0.2,-0.1,0,0.1,0.2,0.3,0.4,0.5,0.6,0.7,0.8,0.9,1],"labelExpr":"datum.value == 0 ? '0' : (round(datum.value*10) % 5 == 0 ? format(datum.value, '.1f') : '')","tickSize":0,"labelPadding":30,"labelOverlap":false,"labelFlush":false,"domain":false,"tickColor":"#b4b4b4","tickWidth":1.2,"title":null,"encode":{"ticks":{"update":{"x2":{"signal":"round(datum.value*10) % 5 == 0 ? 18 : 12"}}}}}},
"y2":{"field":"b"},
"color":{"field":"v","type":"quantitative","legend":null,"scale":{"type":"linear","clamp":true,"interpolate":"rgb","domain":[-1,-0.95,-0.9,-0.85,-0.8,-0.7,-0.6,-0.5,-0.4,-0.3,-0.2,-0.1,0,0.1,0.2,0.3,0.4,0.5,0.6,0.7,0.8,0.9,1],"range":["#781C86","#601C9B","#4E1DAA","#4526B6","#4035C1","#3E4FCB","#406AD1","#457FCC","#4D8EBE","#579CAA","#63A895","#73B17F","#88B96C","#A0BD5C","#B6BC50","#C8B646","#D6AB3F","#E09A39","#E48634","#E56E30","#E2552B","#DC3A25","#D92121"]}},
"stroke":{"field":"v","type":"quantitative","legend":null,"scale":{"type":"linear","clamp":true,"interpolate":"rgb","domain":[-1,-0.95,-0.9,-0.85,-0.8,-0.7,-0.6,-0.5,-0.4,-0.3,-0.2,-0.1,0,0.1,0.2,0.3,0.4,0.5,0.6,0.7,0.8,0.9,1],"range":["#781C86","#601C9B","#4E1DAA","#4526B6","#4035C1","#3E4FCB","#406AD1","#457FCC","#4D8EBE","#579CAA","#63A895","#73B17F","#88B96C","#A0BD5C","#B6BC50","#C8B646","#D6AB3F","#E09A39","#E48634","#E56E30","#E2552B","#DC3A25","#D92121"]}}
}
}
]
}
